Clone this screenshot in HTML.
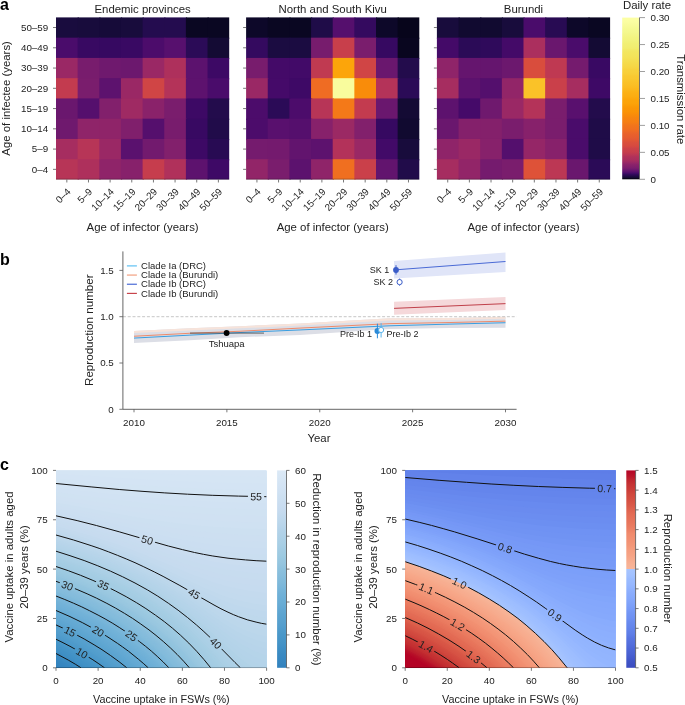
<!DOCTYPE html>
<html><head><meta charset="utf-8"><style>html,body{margin:0;padding:0;background:#fff;}svg{display:block;will-change:transform;}text{font-family:"Liberation Sans",sans-serif;}</style></head>
<body><svg width="685" height="705" viewBox="0 0 685 705" font-family="Liberation Sans, sans-serif">
<rect width="685" height="705" fill="#fff"/>
<text x="0" y="9.9" font-size="16" font-weight="bold" fill="#000">a</text>
<rect x="56" y="17.4" width="22.85" height="21.46" fill="#190c3e"/>
<rect x="77.65" y="17.4" width="22.85" height="21.46" fill="#180c3c"/>
<rect x="99.3" y="17.4" width="22.85" height="21.46" fill="#160b39"/>
<rect x="120.95" y="17.4" width="22.85" height="21.46" fill="#180c3c"/>
<rect x="142.6" y="17.4" width="22.85" height="21.46" fill="#240c4f"/>
<rect x="164.25" y="17.4" width="22.85" height="21.46" fill="#240c4f"/>
<rect x="185.9" y="17.4" width="22.85" height="21.46" fill="#0a0722"/>
<rect x="207.55" y="17.4" width="21.65" height="21.46" fill="#0a0722"/>
<rect x="56" y="37.66" width="22.85" height="21.46" fill="#4a0c6b"/>
<rect x="77.65" y="37.66" width="22.85" height="21.46" fill="#380962"/>
<rect x="99.3" y="37.66" width="22.85" height="21.46" fill="#360961"/>
<rect x="120.95" y="37.66" width="22.85" height="21.46" fill="#390963"/>
<rect x="142.6" y="37.66" width="22.85" height="21.46" fill="#4c0c6b"/>
<rect x="164.25" y="37.66" width="22.85" height="21.46" fill="#57106e"/>
<rect x="185.9" y="37.66" width="22.85" height="21.46" fill="#2b0b57"/>
<rect x="207.55" y="37.66" width="21.65" height="21.46" fill="#140b34"/>
<rect x="56" y="57.92" width="22.85" height="21.46" fill="#9a2865"/>
<rect x="77.65" y="57.92" width="22.85" height="21.46" fill="#781c6d"/>
<rect x="99.3" y="57.92" width="22.85" height="21.46" fill="#6f196e"/>
<rect x="120.95" y="57.92" width="22.85" height="21.46" fill="#6c186e"/>
<rect x="142.6" y="57.92" width="22.85" height="21.46" fill="#9a2865"/>
<rect x="164.25" y="57.92" width="22.85" height="21.46" fill="#ae305c"/>
<rect x="185.9" y="57.92" width="22.85" height="21.46" fill="#5c126e"/>
<rect x="207.55" y="57.92" width="21.65" height="21.46" fill="#3d0965"/>
<rect x="56" y="78.18" width="22.85" height="21.46" fill="#c33b4f"/>
<rect x="77.65" y="78.18" width="22.85" height="21.46" fill="#7a1d6d"/>
<rect x="99.3" y="78.18" width="22.85" height="21.46" fill="#5d126e"/>
<rect x="120.95" y="78.18" width="22.85" height="21.46" fill="#9a2865"/>
<rect x="142.6" y="78.18" width="22.85" height="21.46" fill="#d04545"/>
<rect x="164.25" y="78.18" width="22.85" height="21.46" fill="#b43359"/>
<rect x="185.9" y="78.18" width="22.85" height="21.46" fill="#5d126e"/>
<rect x="207.55" y="78.18" width="21.65" height="21.46" fill="#4a0c6b"/>
<rect x="56" y="98.44" width="22.85" height="21.46" fill="#6a176e"/>
<rect x="77.65" y="98.44" width="22.85" height="21.46" fill="#550f6d"/>
<rect x="99.3" y="98.44" width="22.85" height="21.46" fill="#82206c"/>
<rect x="120.95" y="98.44" width="22.85" height="21.46" fill="#9f2a63"/>
<rect x="142.6" y="98.44" width="22.85" height="21.46" fill="#8a226a"/>
<rect x="164.25" y="98.44" width="22.85" height="21.46" fill="#7a1d6d"/>
<rect x="185.9" y="98.44" width="22.85" height="21.46" fill="#3d0965"/>
<rect x="207.55" y="98.44" width="21.65" height="21.46" fill="#230c4c"/>
<rect x="56" y="118.7" width="22.85" height="21.46" fill="#6f196e"/>
<rect x="77.65" y="118.7" width="22.85" height="21.46" fill="#8f2469"/>
<rect x="99.3" y="118.7" width="22.85" height="21.46" fill="#8f2469"/>
<rect x="120.95" y="118.7" width="22.85" height="21.46" fill="#801f6c"/>
<rect x="142.6" y="118.7" width="22.85" height="21.46" fill="#550f6d"/>
<rect x="164.25" y="118.7" width="22.85" height="21.46" fill="#781c6d"/>
<rect x="185.9" y="118.7" width="22.85" height="21.46" fill="#380962"/>
<rect x="207.55" y="118.7" width="21.65" height="21.46" fill="#210c4a"/>
<rect x="56" y="138.96" width="22.85" height="21.46" fill="#a62d60"/>
<rect x="77.65" y="138.96" width="22.85" height="21.46" fill="#b73557"/>
<rect x="99.3" y="138.96" width="22.85" height="21.46" fill="#9a2865"/>
<rect x="120.95" y="138.96" width="22.85" height="21.46" fill="#5a116e"/>
<rect x="142.6" y="138.96" width="22.85" height="21.46" fill="#721a6e"/>
<rect x="164.25" y="138.96" width="22.85" height="21.46" fill="#82206c"/>
<rect x="185.9" y="138.96" width="22.85" height="21.46" fill="#3d0965"/>
<rect x="207.55" y="138.96" width="21.65" height="21.46" fill="#280b53"/>
<rect x="56" y="159.22" width="22.85" height="20.26" fill="#b73557"/>
<rect x="77.65" y="159.22" width="22.85" height="20.26" fill="#ae305c"/>
<rect x="99.3" y="159.22" width="22.85" height="20.26" fill="#8f2469"/>
<rect x="120.95" y="159.22" width="22.85" height="20.26" fill="#87216b"/>
<rect x="142.6" y="159.22" width="22.85" height="20.26" fill="#c63d4d"/>
<rect x="164.25" y="159.22" width="22.85" height="20.26" fill="#b0315b"/>
<rect x="185.9" y="159.22" width="22.85" height="20.26" fill="#5d126e"/>
<rect x="207.55" y="159.22" width="21.65" height="20.26" fill="#3e0966"/>
<text x="142.6" y="12.8" font-size="11.4" text-anchor="middle" fill="#222">Endemic provinces</text>
<line x1="53" y1="169.35" x2="56" y2="169.35" stroke="#555" stroke-width="0.8"/>
<text x="48.2" y="172.75" font-size="9.8" text-anchor="end" fill="#222">0–4</text>
<line x1="53" y1="149.09" x2="56" y2="149.09" stroke="#555" stroke-width="0.8"/>
<text x="48.2" y="152.49" font-size="9.8" text-anchor="end" fill="#222">5–9</text>
<line x1="53" y1="128.83" x2="56" y2="128.83" stroke="#555" stroke-width="0.8"/>
<text x="48.2" y="132.23" font-size="9.8" text-anchor="end" fill="#222">10–14</text>
<line x1="53" y1="108.57" x2="56" y2="108.57" stroke="#555" stroke-width="0.8"/>
<text x="48.2" y="111.97" font-size="9.8" text-anchor="end" fill="#222">15–19</text>
<line x1="53" y1="88.31" x2="56" y2="88.31" stroke="#555" stroke-width="0.8"/>
<text x="48.2" y="91.71" font-size="9.8" text-anchor="end" fill="#222">20–29</text>
<line x1="53" y1="68.05" x2="56" y2="68.05" stroke="#555" stroke-width="0.8"/>
<text x="48.2" y="71.45" font-size="9.8" text-anchor="end" fill="#222">30–39</text>
<line x1="53" y1="47.79" x2="56" y2="47.79" stroke="#555" stroke-width="0.8"/>
<text x="48.2" y="51.19" font-size="9.8" text-anchor="end" fill="#222">40–49</text>
<line x1="53" y1="27.53" x2="56" y2="27.53" stroke="#555" stroke-width="0.8"/>
<text x="48.2" y="30.93" font-size="9.8" text-anchor="end" fill="#222">50–59</text>
<line x1="56" y1="179.18" x2="229.2" y2="179.18" stroke="#000" stroke-width="0.6" stroke-opacity="0.5"/>
<line x1="66.83" y1="179.48" x2="66.83" y2="182.48" stroke="#555" stroke-width="0.8"/>
<text transform="translate(71.33,192.3) rotate(-45)" font-size="9.8" text-anchor="end" fill="#222">0–4</text>
<line x1="88.47" y1="179.48" x2="88.47" y2="182.48" stroke="#555" stroke-width="0.8"/>
<text transform="translate(92.97,192.3) rotate(-45)" font-size="9.8" text-anchor="end" fill="#222">5–9</text>
<line x1="110.12" y1="179.48" x2="110.12" y2="182.48" stroke="#555" stroke-width="0.8"/>
<text transform="translate(114.62,192.3) rotate(-45)" font-size="9.8" text-anchor="end" fill="#222">10–14</text>
<line x1="131.77" y1="179.48" x2="131.77" y2="182.48" stroke="#555" stroke-width="0.8"/>
<text transform="translate(136.27,192.3) rotate(-45)" font-size="9.8" text-anchor="end" fill="#222">15–19</text>
<line x1="153.43" y1="179.48" x2="153.43" y2="182.48" stroke="#555" stroke-width="0.8"/>
<text transform="translate(157.93,192.3) rotate(-45)" font-size="9.8" text-anchor="end" fill="#222">20–29</text>
<line x1="175.07" y1="179.48" x2="175.07" y2="182.48" stroke="#555" stroke-width="0.8"/>
<text transform="translate(179.57,192.3) rotate(-45)" font-size="9.8" text-anchor="end" fill="#222">30–39</text>
<line x1="196.72" y1="179.48" x2="196.72" y2="182.48" stroke="#555" stroke-width="0.8"/>
<text transform="translate(201.22,192.3) rotate(-45)" font-size="9.8" text-anchor="end" fill="#222">40–49</text>
<line x1="218.38" y1="179.48" x2="218.38" y2="182.48" stroke="#555" stroke-width="0.8"/>
<text transform="translate(222.88,192.3) rotate(-45)" font-size="9.8" text-anchor="end" fill="#222">50–59</text>
<text x="142.6" y="230.5" font-size="11.4" text-anchor="middle" fill="#222">Age of infector (years)</text>
<rect x="246.1" y="17.4" width="22.85" height="21.46" fill="#0d0829"/>
<rect x="267.75" y="17.4" width="22.85" height="21.46" fill="#0a0722"/>
<rect x="289.4" y="17.4" width="22.85" height="21.46" fill="#0a0722"/>
<rect x="311.05" y="17.4" width="22.85" height="21.46" fill="#1f0c48"/>
<rect x="332.7" y="17.4" width="22.85" height="21.46" fill="#550f6d"/>
<rect x="354.35" y="17.4" width="22.85" height="21.46" fill="#340a5f"/>
<rect x="376" y="17.4" width="22.85" height="21.46" fill="#0d0829"/>
<rect x="397.65" y="17.4" width="21.65" height="21.46" fill="#07051b"/>
<rect x="246.1" y="37.66" width="22.85" height="21.46" fill="#340a5f"/>
<rect x="267.75" y="37.66" width="22.85" height="21.46" fill="#1b0c41"/>
<rect x="289.4" y="37.66" width="22.85" height="21.46" fill="#1b0c41"/>
<rect x="311.05" y="37.66" width="22.85" height="21.46" fill="#771c6d"/>
<rect x="332.7" y="37.66" width="22.85" height="21.46" fill="#c83f4b"/>
<rect x="354.35" y="37.66" width="22.85" height="21.46" fill="#7a1d6d"/>
<rect x="376" y="37.66" width="22.85" height="21.46" fill="#360961"/>
<rect x="397.65" y="37.66" width="21.65" height="21.46" fill="#09061f"/>
<rect x="246.1" y="57.92" width="22.85" height="21.46" fill="#781c6d"/>
<rect x="267.75" y="57.92" width="22.85" height="21.46" fill="#440a68"/>
<rect x="289.4" y="57.92" width="22.85" height="21.46" fill="#420a68"/>
<rect x="311.05" y="57.92" width="22.85" height="21.46" fill="#c03a51"/>
<rect x="332.7" y="57.92" width="22.85" height="21.46" fill="#fca50a"/>
<rect x="354.35" y="57.92" width="22.85" height="21.46" fill="#d04545"/>
<rect x="376" y="57.92" width="22.85" height="21.46" fill="#6a176e"/>
<rect x="397.65" y="57.92" width="21.65" height="21.46" fill="#230c4c"/>
<rect x="246.1" y="78.18" width="22.85" height="21.46" fill="#9a2865"/>
<rect x="267.75" y="78.18" width="22.85" height="21.46" fill="#450a69"/>
<rect x="289.4" y="78.18" width="22.85" height="21.46" fill="#3e0966"/>
<rect x="311.05" y="78.18" width="22.85" height="21.46" fill="#ef6c23"/>
<rect x="332.7" y="78.18" width="22.85" height="21.46" fill="#f9fc9d"/>
<rect x="354.35" y="78.18" width="22.85" height="21.46" fill="#f98c0a"/>
<rect x="376" y="78.18" width="22.85" height="21.46" fill="#b43359"/>
<rect x="397.65" y="78.18" width="21.65" height="21.46" fill="#2b0b57"/>
<rect x="246.1" y="98.44" width="22.85" height="21.46" fill="#4c0c6b"/>
<rect x="267.75" y="98.44" width="22.85" height="21.46" fill="#2b0b57"/>
<rect x="289.4" y="98.44" width="22.85" height="21.46" fill="#4c0c6b"/>
<rect x="311.05" y="98.44" width="22.85" height="21.46" fill="#b73557"/>
<rect x="332.7" y="98.44" width="22.85" height="21.46" fill="#f47918"/>
<rect x="354.35" y="98.44" width="22.85" height="21.46" fill="#c33b4f"/>
<rect x="376" y="98.44" width="22.85" height="21.46" fill="#6a176e"/>
<rect x="397.65" y="98.44" width="21.65" height="21.46" fill="#140b34"/>
<rect x="246.1" y="118.7" width="22.85" height="21.46" fill="#4c0c6b"/>
<rect x="267.75" y="118.7" width="22.85" height="21.46" fill="#59106e"/>
<rect x="289.4" y="118.7" width="22.85" height="21.46" fill="#550f6d"/>
<rect x="311.05" y="118.7" width="22.85" height="21.46" fill="#87216b"/>
<rect x="332.7" y="118.7" width="22.85" height="21.46" fill="#9b2964"/>
<rect x="354.35" y="118.7" width="22.85" height="21.46" fill="#82206c"/>
<rect x="376" y="118.7" width="22.85" height="21.46" fill="#360961"/>
<rect x="397.65" y="118.7" width="21.65" height="21.46" fill="#110a30"/>
<rect x="246.1" y="138.96" width="22.85" height="21.46" fill="#751b6e"/>
<rect x="267.75" y="138.96" width="22.85" height="21.46" fill="#741a6e"/>
<rect x="289.4" y="138.96" width="22.85" height="21.46" fill="#62146e"/>
<rect x="311.05" y="138.96" width="22.85" height="21.46" fill="#5d126e"/>
<rect x="332.7" y="138.96" width="22.85" height="21.46" fill="#b3325a"/>
<rect x="354.35" y="138.96" width="22.85" height="21.46" fill="#9a2865"/>
<rect x="376" y="138.96" width="22.85" height="21.46" fill="#420a68"/>
<rect x="397.65" y="138.96" width="21.65" height="21.46" fill="#180c3c"/>
<rect x="246.1" y="159.22" width="22.85" height="20.26" fill="#922568"/>
<rect x="267.75" y="159.22" width="22.85" height="20.26" fill="#7a1d6d"/>
<rect x="289.4" y="159.22" width="22.85" height="20.26" fill="#5c126e"/>
<rect x="311.05" y="159.22" width="22.85" height="20.26" fill="#8f2469"/>
<rect x="332.7" y="159.22" width="22.85" height="20.26" fill="#f06f20"/>
<rect x="354.35" y="159.22" width="22.85" height="20.26" fill="#ca404a"/>
<rect x="376" y="159.22" width="22.85" height="20.26" fill="#62146e"/>
<rect x="397.65" y="159.22" width="21.65" height="20.26" fill="#210c4a"/>
<text x="332.7" y="12.8" font-size="11.4" text-anchor="middle" fill="#222">North and South Kivu</text>
<line x1="243.1" y1="169.35" x2="246.1" y2="169.35" stroke="#555" stroke-width="0.8"/>
<line x1="243.1" y1="149.09" x2="246.1" y2="149.09" stroke="#555" stroke-width="0.8"/>
<line x1="243.1" y1="128.83" x2="246.1" y2="128.83" stroke="#555" stroke-width="0.8"/>
<line x1="243.1" y1="108.57" x2="246.1" y2="108.57" stroke="#555" stroke-width="0.8"/>
<line x1="243.1" y1="88.31" x2="246.1" y2="88.31" stroke="#555" stroke-width="0.8"/>
<line x1="243.1" y1="68.05" x2="246.1" y2="68.05" stroke="#555" stroke-width="0.8"/>
<line x1="243.1" y1="47.79" x2="246.1" y2="47.79" stroke="#555" stroke-width="0.8"/>
<line x1="243.1" y1="27.53" x2="246.1" y2="27.53" stroke="#555" stroke-width="0.8"/>
<line x1="246.1" y1="179.18" x2="419.3" y2="179.18" stroke="#000" stroke-width="0.6" stroke-opacity="0.5"/>
<line x1="256.93" y1="179.48" x2="256.93" y2="182.48" stroke="#555" stroke-width="0.8"/>
<text transform="translate(261.43,192.3) rotate(-45)" font-size="9.8" text-anchor="end" fill="#222">0–4</text>
<line x1="278.57" y1="179.48" x2="278.57" y2="182.48" stroke="#555" stroke-width="0.8"/>
<text transform="translate(283.07,192.3) rotate(-45)" font-size="9.8" text-anchor="end" fill="#222">5–9</text>
<line x1="300.23" y1="179.48" x2="300.23" y2="182.48" stroke="#555" stroke-width="0.8"/>
<text transform="translate(304.73,192.3) rotate(-45)" font-size="9.8" text-anchor="end" fill="#222">10–14</text>
<line x1="321.88" y1="179.48" x2="321.88" y2="182.48" stroke="#555" stroke-width="0.8"/>
<text transform="translate(326.38,192.3) rotate(-45)" font-size="9.8" text-anchor="end" fill="#222">15–19</text>
<line x1="343.52" y1="179.48" x2="343.52" y2="182.48" stroke="#555" stroke-width="0.8"/>
<text transform="translate(348.02,192.3) rotate(-45)" font-size="9.8" text-anchor="end" fill="#222">20–29</text>
<line x1="365.17" y1="179.48" x2="365.17" y2="182.48" stroke="#555" stroke-width="0.8"/>
<text transform="translate(369.67,192.3) rotate(-45)" font-size="9.8" text-anchor="end" fill="#222">30–39</text>
<line x1="386.82" y1="179.48" x2="386.82" y2="182.48" stroke="#555" stroke-width="0.8"/>
<text transform="translate(391.32,192.3) rotate(-45)" font-size="9.8" text-anchor="end" fill="#222">40–49</text>
<line x1="408.48" y1="179.48" x2="408.48" y2="182.48" stroke="#555" stroke-width="0.8"/>
<text transform="translate(412.98,192.3) rotate(-45)" font-size="9.8" text-anchor="end" fill="#222">50–59</text>
<text x="332.7" y="230.5" font-size="11.4" text-anchor="middle" fill="#222">Age of infector (years)</text>
<rect x="436.9" y="17.4" width="22.85" height="21.46" fill="#180c3c"/>
<rect x="458.55" y="17.4" width="22.85" height="21.46" fill="#110a30"/>
<rect x="480.2" y="17.4" width="22.85" height="21.46" fill="#110a30"/>
<rect x="501.85" y="17.4" width="22.85" height="21.46" fill="#180c3c"/>
<rect x="523.5" y="17.4" width="22.85" height="21.46" fill="#4a0c6b"/>
<rect x="545.15" y="17.4" width="22.85" height="21.46" fill="#280b53"/>
<rect x="566.8" y="17.4" width="22.85" height="21.46" fill="#0d0829"/>
<rect x="588.45" y="17.4" width="21.65" height="21.46" fill="#0a0722"/>
<rect x="436.9" y="37.66" width="22.85" height="21.46" fill="#440a68"/>
<rect x="458.55" y="37.66" width="22.85" height="21.46" fill="#2b0b57"/>
<rect x="480.2" y="37.66" width="22.85" height="21.46" fill="#2f0a5b"/>
<rect x="501.85" y="37.66" width="22.85" height="21.46" fill="#440a68"/>
<rect x="523.5" y="37.66" width="22.85" height="21.46" fill="#ab2f5e"/>
<rect x="545.15" y="37.66" width="22.85" height="21.46" fill="#6a176e"/>
<rect x="566.8" y="37.66" width="22.85" height="21.46" fill="#4a0c6b"/>
<rect x="588.45" y="37.66" width="21.65" height="21.46" fill="#140b34"/>
<rect x="436.9" y="57.92" width="22.85" height="21.46" fill="#8f2469"/>
<rect x="458.55" y="57.92" width="22.85" height="21.46" fill="#65156e"/>
<rect x="480.2" y="57.92" width="22.85" height="21.46" fill="#65156e"/>
<rect x="501.85" y="57.92" width="22.85" height="21.46" fill="#6c186e"/>
<rect x="523.5" y="57.92" width="22.85" height="21.46" fill="#d94d3d"/>
<rect x="545.15" y="57.92" width="22.85" height="21.46" fill="#bf3952"/>
<rect x="566.8" y="57.92" width="22.85" height="21.46" fill="#751b6e"/>
<rect x="588.45" y="57.92" width="21.65" height="21.46" fill="#390963"/>
<rect x="436.9" y="78.18" width="22.85" height="21.46" fill="#a62d60"/>
<rect x="458.55" y="78.18" width="22.85" height="21.46" fill="#5c126e"/>
<rect x="480.2" y="78.18" width="22.85" height="21.46" fill="#540f6d"/>
<rect x="501.85" y="78.18" width="22.85" height="21.46" fill="#922568"/>
<rect x="523.5" y="78.18" width="22.85" height="21.46" fill="#fac228"/>
<rect x="545.15" y="78.18" width="22.85" height="21.46" fill="#ca404a"/>
<rect x="566.8" y="78.18" width="22.85" height="21.46" fill="#a62d60"/>
<rect x="588.45" y="78.18" width="21.65" height="21.46" fill="#3e0966"/>
<rect x="436.9" y="98.44" width="22.85" height="21.46" fill="#5d126e"/>
<rect x="458.55" y="98.44" width="22.85" height="21.46" fill="#450a69"/>
<rect x="480.2" y="98.44" width="22.85" height="21.46" fill="#6f196e"/>
<rect x="501.85" y="98.44" width="22.85" height="21.46" fill="#9a2865"/>
<rect x="523.5" y="98.44" width="22.85" height="21.46" fill="#b43359"/>
<rect x="545.15" y="98.44" width="22.85" height="21.46" fill="#7a1d6d"/>
<rect x="566.8" y="98.44" width="22.85" height="21.46" fill="#59106e"/>
<rect x="588.45" y="98.44" width="21.65" height="21.46" fill="#230c4c"/>
<rect x="436.9" y="118.7" width="22.85" height="21.46" fill="#6a176e"/>
<rect x="458.55" y="118.7" width="22.85" height="21.46" fill="#84206b"/>
<rect x="480.2" y="118.7" width="22.85" height="21.46" fill="#84206b"/>
<rect x="501.85" y="118.7" width="22.85" height="21.46" fill="#7a1d6d"/>
<rect x="523.5" y="118.7" width="22.85" height="21.46" fill="#87216b"/>
<rect x="545.15" y="118.7" width="22.85" height="21.46" fill="#7a1d6d"/>
<rect x="566.8" y="118.7" width="22.85" height="21.46" fill="#4a0c6b"/>
<rect x="588.45" y="118.7" width="21.65" height="21.46" fill="#1f0c48"/>
<rect x="436.9" y="138.96" width="22.85" height="21.46" fill="#8f2469"/>
<rect x="458.55" y="138.96" width="22.85" height="21.46" fill="#9a2865"/>
<rect x="480.2" y="138.96" width="22.85" height="21.46" fill="#87216b"/>
<rect x="501.85" y="138.96" width="22.85" height="21.46" fill="#540f6d"/>
<rect x="523.5" y="138.96" width="22.85" height="21.46" fill="#952667"/>
<rect x="545.15" y="138.96" width="22.85" height="21.46" fill="#87216b"/>
<rect x="566.8" y="138.96" width="22.85" height="21.46" fill="#4a0c6b"/>
<rect x="588.45" y="138.96" width="21.65" height="21.46" fill="#1f0c48"/>
<rect x="436.9" y="159.22" width="22.85" height="20.26" fill="#a62d60"/>
<rect x="458.55" y="159.22" width="22.85" height="20.26" fill="#922568"/>
<rect x="480.2" y="159.22" width="22.85" height="20.26" fill="#751b6e"/>
<rect x="501.85" y="159.22" width="22.85" height="20.26" fill="#7a1d6d"/>
<rect x="523.5" y="159.22" width="22.85" height="20.26" fill="#de5238"/>
<rect x="545.15" y="159.22" width="22.85" height="20.26" fill="#bc3754"/>
<rect x="566.8" y="159.22" width="22.85" height="20.26" fill="#6a176e"/>
<rect x="588.45" y="159.22" width="21.65" height="20.26" fill="#2b0b57"/>
<text x="523.5" y="12.8" font-size="11.4" text-anchor="middle" fill="#222">Burundi</text>
<line x1="433.9" y1="169.35" x2="436.9" y2="169.35" stroke="#555" stroke-width="0.8"/>
<line x1="433.9" y1="149.09" x2="436.9" y2="149.09" stroke="#555" stroke-width="0.8"/>
<line x1="433.9" y1="128.83" x2="436.9" y2="128.83" stroke="#555" stroke-width="0.8"/>
<line x1="433.9" y1="108.57" x2="436.9" y2="108.57" stroke="#555" stroke-width="0.8"/>
<line x1="433.9" y1="88.31" x2="436.9" y2="88.31" stroke="#555" stroke-width="0.8"/>
<line x1="433.9" y1="68.05" x2="436.9" y2="68.05" stroke="#555" stroke-width="0.8"/>
<line x1="433.9" y1="47.79" x2="436.9" y2="47.79" stroke="#555" stroke-width="0.8"/>
<line x1="433.9" y1="27.53" x2="436.9" y2="27.53" stroke="#555" stroke-width="0.8"/>
<line x1="436.9" y1="179.18" x2="610.1" y2="179.18" stroke="#000" stroke-width="0.6" stroke-opacity="0.5"/>
<line x1="447.72" y1="179.48" x2="447.72" y2="182.48" stroke="#555" stroke-width="0.8"/>
<text transform="translate(452.22,192.3) rotate(-45)" font-size="9.8" text-anchor="end" fill="#222">0–4</text>
<line x1="469.38" y1="179.48" x2="469.38" y2="182.48" stroke="#555" stroke-width="0.8"/>
<text transform="translate(473.88,192.3) rotate(-45)" font-size="9.8" text-anchor="end" fill="#222">5–9</text>
<line x1="491.02" y1="179.48" x2="491.02" y2="182.48" stroke="#555" stroke-width="0.8"/>
<text transform="translate(495.52,192.3) rotate(-45)" font-size="9.8" text-anchor="end" fill="#222">10–14</text>
<line x1="512.67" y1="179.48" x2="512.67" y2="182.48" stroke="#555" stroke-width="0.8"/>
<text transform="translate(517.17,192.3) rotate(-45)" font-size="9.8" text-anchor="end" fill="#222">15–19</text>
<line x1="534.32" y1="179.48" x2="534.32" y2="182.48" stroke="#555" stroke-width="0.8"/>
<text transform="translate(538.82,192.3) rotate(-45)" font-size="9.8" text-anchor="end" fill="#222">20–29</text>
<line x1="555.97" y1="179.48" x2="555.97" y2="182.48" stroke="#555" stroke-width="0.8"/>
<text transform="translate(560.47,192.3) rotate(-45)" font-size="9.8" text-anchor="end" fill="#222">30–39</text>
<line x1="577.62" y1="179.48" x2="577.62" y2="182.48" stroke="#555" stroke-width="0.8"/>
<text transform="translate(582.12,192.3) rotate(-45)" font-size="9.8" text-anchor="end" fill="#222">40–49</text>
<line x1="599.27" y1="179.48" x2="599.27" y2="182.48" stroke="#555" stroke-width="0.8"/>
<text transform="translate(603.77,192.3) rotate(-45)" font-size="9.8" text-anchor="end" fill="#222">50–59</text>
<text x="523.5" y="230.5" font-size="11.4" text-anchor="middle" fill="#222">Age of infector (years)</text>
<text transform="translate(9.8,98.4) rotate(-90)" font-size="11.4" text-anchor="middle" fill="#222">Age of infectee (years)</text>
<defs><linearGradient id="gInf" x1="0" y1="1" x2="0" y2="0"><stop offset="0" stop-color="#000004"/><stop offset="0.01" stop-color="#140b34"/><stop offset="0.03" stop-color="#310a5c"/><stop offset="0.04" stop-color="#4a0c6b"/><stop offset="0.05" stop-color="#5d126e"/><stop offset="0.06" stop-color="#6d186e"/><stop offset="0.07" stop-color="#7c1d6d"/><stop offset="0.09" stop-color="#8a226a"/><stop offset="0.1" stop-color="#952667"/><stop offset="0.11" stop-color="#a02a63"/><stop offset="0.12" stop-color="#a92e5e"/><stop offset="0.14" stop-color="#b1325a"/><stop offset="0.15" stop-color="#ba3655"/><stop offset="0.16" stop-color="#c13a50"/><stop offset="0.17" stop-color="#c73e4c"/><stop offset="0.19" stop-color="#cc4248"/><stop offset="0.2" stop-color="#d34743"/><stop offset="0.21" stop-color="#d74b3f"/><stop offset="0.23" stop-color="#db503b"/><stop offset="0.24" stop-color="#e05536"/><stop offset="0.25" stop-color="#e35933"/><stop offset="0.26" stop-color="#e65d2f"/><stop offset="0.28" stop-color="#e9612b"/><stop offset="0.29" stop-color="#eb6628"/><stop offset="0.3" stop-color="#ee6a24"/><stop offset="0.31" stop-color="#f06f20"/><stop offset="0.33" stop-color="#f2741c"/><stop offset="0.34" stop-color="#f37819"/><stop offset="0.35" stop-color="#f57d15"/><stop offset="0.36" stop-color="#f68013"/><stop offset="0.38" stop-color="#f78410"/><stop offset="0.39" stop-color="#f8890c"/><stop offset="0.4" stop-color="#f98c0a"/><stop offset="0.41" stop-color="#fa9008"/><stop offset="0.42" stop-color="#fa9407"/><stop offset="0.44" stop-color="#fb9706"/><stop offset="0.45" stop-color="#fb9b06"/><stop offset="0.46" stop-color="#fc9f07"/><stop offset="0.47" stop-color="#fca309"/><stop offset="0.49" stop-color="#fca50a"/><stop offset="0.5" stop-color="#fca80d"/><stop offset="0.51" stop-color="#fcac11"/><stop offset="0.53" stop-color="#fcb014"/><stop offset="0.54" stop-color="#fcb216"/><stop offset="0.55" stop-color="#fbb61a"/><stop offset="0.56" stop-color="#fbb81d"/><stop offset="0.57" stop-color="#fbbc21"/><stop offset="0.59" stop-color="#fac026"/><stop offset="0.6" stop-color="#fac228"/><stop offset="0.61" stop-color="#fac42a"/><stop offset="0.62" stop-color="#f9c72f"/><stop offset="0.64" stop-color="#f9c932"/><stop offset="0.65" stop-color="#f8cd37"/><stop offset="0.66" stop-color="#f8cf3a"/><stop offset="0.68" stop-color="#f7d13d"/><stop offset="0.69" stop-color="#f6d543"/><stop offset="0.7" stop-color="#f6d746"/><stop offset="0.71" stop-color="#f5d949"/><stop offset="0.72" stop-color="#f5db4c"/><stop offset="0.74" stop-color="#f4df53"/><stop offset="0.75" stop-color="#f4e156"/><stop offset="0.76" stop-color="#f3e35a"/><stop offset="0.78" stop-color="#f3e55d"/><stop offset="0.79" stop-color="#f2e661"/><stop offset="0.8" stop-color="#f2e865"/><stop offset="0.81" stop-color="#f1ec6d"/><stop offset="0.82" stop-color="#f1ed71"/><stop offset="0.84" stop-color="#f1ef75"/><stop offset="0.85" stop-color="#f1f179"/><stop offset="0.86" stop-color="#f2f27d"/><stop offset="0.88" stop-color="#f2f482"/><stop offset="0.89" stop-color="#f3f586"/><stop offset="0.9" stop-color="#f3f68a"/><stop offset="0.91" stop-color="#f4f88e"/><stop offset="0.93" stop-color="#f5f992"/><stop offset="0.94" stop-color="#f6fa96"/><stop offset="0.95" stop-color="#f8fb9a"/><stop offset="0.96" stop-color="#f9fc9d"/><stop offset="0.97" stop-color="#fafda1"/><stop offset="0.99" stop-color="#fcffa4"/><stop offset="1" stop-color="#fcffa4"/></linearGradient></defs>
<rect x="622.2" y="17.6" width="17.3" height="161.7" fill="url(#gInf)"/>
<line x1="639.5" y1="17.6" x2="639.5" y2="179.3" stroke="#555" stroke-width="0.8"/>
<line x1="639.5" y1="179.3" x2="645" y2="179.3" stroke="#888" stroke-width="0.8"/>
<text x="650.5" y="182.7" font-size="9.8" fill="#222">0</text>
<line x1="639.5" y1="152.35" x2="645" y2="152.35" stroke="#888" stroke-width="0.8"/>
<text x="650.5" y="155.75" font-size="9.8" fill="#222">0.05</text>
<line x1="639.5" y1="125.4" x2="645" y2="125.4" stroke="#888" stroke-width="0.8"/>
<text x="650.5" y="128.8" font-size="9.8" fill="#222">0.10</text>
<line x1="639.5" y1="98.45" x2="645" y2="98.45" stroke="#888" stroke-width="0.8"/>
<text x="650.5" y="101.85" font-size="9.8" fill="#222">0.15</text>
<line x1="639.5" y1="71.5" x2="645" y2="71.5" stroke="#888" stroke-width="0.8"/>
<text x="650.5" y="74.9" font-size="9.8" fill="#222">0.20</text>
<line x1="639.5" y1="44.55" x2="645" y2="44.55" stroke="#888" stroke-width="0.8"/>
<text x="650.5" y="47.95" font-size="9.8" fill="#222">0.25</text>
<line x1="639.5" y1="17.6" x2="645" y2="17.6" stroke="#888" stroke-width="0.8"/>
<text x="650.5" y="21" font-size="9.8" fill="#222">0.30</text>
<text x="647" y="9.4" font-size="11.4" text-anchor="middle" fill="#222">Daily rate</text>
<text transform="translate(676.5,99.2) rotate(90)" font-size="11.4" text-anchor="middle" fill="#222">Transmission rate</text>
<text x="0" y="264.8" font-size="16" font-weight="bold" fill="#000">b</text>
<path d="M134,330.96 L189.91,328.37 L240.06,326.24 L300.06,323.55 L389.96,318.37 L449.96,317.9 L505.5,316.7 L505.5,327.72 L449.96,328 L389.96,329.11 L300.06,335.03 L240.06,337.16 L189.91,340.31 L134,343Z" fill="#dcdee6" fill-opacity="1"/>
<path d="M134,330.96 L189.91,328.37 L240.06,326.24 L300.06,323.55 L389.96,318.37 L449.96,317.9 L505.5,316.7 L505.5,318.74 L449.96,319.94 L389.96,320.4 L300.06,325.59 L240.06,328.28 L189.91,330.4 L134,333Z" fill="#f7e3da" fill-opacity="1"/>
<line x1="122.9" y1="316.7" x2="516.6" y2="316.7" stroke="#b8b8b8" stroke-width="0.8" stroke-dasharray="3 1.8"/>
<path d="M134,336.24 L189.91,333.28 L240.06,331.24 L300.06,328.09 L389.96,323.64 L449.96,322.53 L505.5,321.14" fill="none" stroke="#ee8a6a" stroke-width="1.0"/>
<path d="M134,338.09 L189.91,335.13 L240.06,332.53 L300.06,329.94 L389.96,325.77 L449.96,324.11 L505.5,322.72" fill="none" stroke="#3a9ee0" stroke-width="1.0"/>
<path d="M394.05,301.79 L505.5,296.88 L505.5,310.03 L394.05,314.66Z" fill="#f5d8da" fill-opacity="1"/>
<path d="M394.05,308.37 L505.5,303.64" fill="none" stroke="#c0404a" stroke-width="1.0"/>
<path d="M394.05,261.05 L505.5,252.44 L505.5,271.88 L394.05,278.55Z" fill="#e0e5f8" fill-opacity="1"/>
<path d="M394.05,269.94 L505.5,261.51" fill="none" stroke="#4a6ad6" stroke-width="1.0"/>
<line x1="190" y1="333.1" x2="264" y2="333.1" stroke="#444" stroke-width="0.8"/>
<circle cx="226.6" cy="333" r="2.9" fill="#000"/>
<text x="226.7" y="346.9" font-size="9.5" text-anchor="middle" fill="#222">Tshuapa</text>
<line x1="396" y1="265.2" x2="396" y2="274.6" stroke="#3a5cc8" stroke-width="1"/>
<circle cx="396" cy="270" r="2.9" fill="#3a5cc8"/>
<line x1="399.6" y1="278.5" x2="399.6" y2="285.8" stroke="#3a5cc8" stroke-width="0.8"/>
<circle cx="399.6" cy="282.1" r="2.6" fill="#fff" stroke="#3a5cc8" stroke-width="1"/>
<text x="389.3" y="272.9" font-size="9" text-anchor="end" fill="#222">SK 1</text>
<text x="393" y="285" font-size="9" text-anchor="end" fill="#222">SK 2</text>
<line x1="377.4" y1="323.7" x2="377.4" y2="338.3" stroke="#2a8ad8" stroke-width="1"/>
<circle cx="377.4" cy="331" r="2.9" fill="#2a8ad8"/>
<line x1="381.1" y1="323" x2="381.1" y2="337.5" stroke="#5ab4ec" stroke-width="1"/>
<circle cx="381.1" cy="330" r="2.6" fill="#fff" stroke="#5ab4ec" stroke-width="1"/>
<text x="371.9" y="337.4" font-size="9" text-anchor="end" fill="#222">Pre-Ib 1</text>
<text x="386.6" y="337.2" font-size="9" fill="#222">Pre-Ib 2</text>
<line x1="122.9" y1="251.4" x2="122.9" y2="409.3" stroke="#555" stroke-width="0.9"/>
<line x1="122.9" y1="409.3" x2="516.6" y2="409.3" stroke="#555" stroke-width="0.9"/>
<line x1="119.4" y1="409.3" x2="122.9" y2="409.3" stroke="#555" stroke-width="0.8"/>
<text x="113.8" y="412.7" font-size="9.8" text-anchor="end" fill="#222">0</text>
<line x1="119.4" y1="363" x2="122.9" y2="363" stroke="#555" stroke-width="0.8"/>
<text x="113.8" y="366.4" font-size="9.8" text-anchor="end" fill="#222">0.5</text>
<line x1="119.4" y1="316.7" x2="122.9" y2="316.7" stroke="#555" stroke-width="0.8"/>
<text x="113.8" y="320.1" font-size="9.8" text-anchor="end" fill="#222">1.0</text>
<line x1="119.4" y1="270.4" x2="122.9" y2="270.4" stroke="#555" stroke-width="0.8"/>
<text x="113.8" y="273.8" font-size="9.8" text-anchor="end" fill="#222">1.5</text>
<line x1="134" y1="409.3" x2="134" y2="412.3" stroke="#555" stroke-width="0.8"/>
<text x="134" y="425.9" font-size="9.8" text-anchor="middle" fill="#222">2010</text>
<line x1="226.88" y1="409.3" x2="226.88" y2="412.3" stroke="#555" stroke-width="0.8"/>
<text x="226.88" y="425.9" font-size="9.8" text-anchor="middle" fill="#222">2015</text>
<line x1="319.75" y1="409.3" x2="319.75" y2="412.3" stroke="#555" stroke-width="0.8"/>
<text x="319.75" y="425.9" font-size="9.8" text-anchor="middle" fill="#222">2020</text>
<line x1="412.62" y1="409.3" x2="412.62" y2="412.3" stroke="#555" stroke-width="0.8"/>
<text x="412.62" y="425.9" font-size="9.8" text-anchor="middle" fill="#222">2025</text>
<line x1="505.5" y1="409.3" x2="505.5" y2="412.3" stroke="#555" stroke-width="0.8"/>
<text x="505.5" y="425.9" font-size="9.8" text-anchor="middle" fill="#222">2030</text>
<text x="319" y="442.2" font-size="11.4" text-anchor="middle" fill="#222">Year</text>
<text transform="translate(93.3,330.2) rotate(-90)" font-size="11.6" text-anchor="middle" fill="#222">Reproduction number</text>
<line x1="126.9" y1="265.9" x2="136.9" y2="265.9" stroke="#5ec0f2" stroke-width="1.2"/>
<text x="141.1" y="269.1" font-size="9.5" fill="#222">Clade Ia (DRC)</text>
<line x1="126.9" y1="275.07" x2="136.9" y2="275.07" stroke="#f2a080" stroke-width="1.2"/>
<text x="141.1" y="278.27" font-size="9.5" fill="#222">Clade Ia (Burundi)</text>
<line x1="126.9" y1="284.24" x2="136.9" y2="284.24" stroke="#4a6ad6" stroke-width="1.2"/>
<text x="141.1" y="287.44" font-size="9.5" fill="#222">Clade Ib (DRC)</text>
<line x1="126.9" y1="293.41" x2="136.9" y2="293.41" stroke="#c8444c" stroke-width="1.2"/>
<text x="141.1" y="296.61" font-size="9.5" fill="#222">Clade Ib (Burundi)</text>
<text x="0" y="470" font-size="16" font-weight="bold" fill="#000">c</text><defs><mask id="mL" maskUnits="userSpaceOnUse" x="0" y="0" width="685" height="705"><rect x="51.0" y="465.4" width="220.6" height="207.4" fill="#fff"/><rect x="-8.14" y="-4" width="16.28" height="8" fill="#000" transform="translate(256.07,496.5) rotate(1.13)"/><rect x="-8.14" y="-4" width="16.28" height="8" fill="#000" transform="translate(147.26,539.98) rotate(16.28)"/><rect x="-8.14" y="-4" width="16.28" height="8" fill="#000" transform="translate(194.26,593.77) rotate(30.11)"/><rect x="-8.14" y="-4" width="16.28" height="8" fill="#000" transform="translate(215.92,643.12) rotate(44.88)"/><rect x="-8.14" y="-4" width="16.28" height="8" fill="#000" transform="translate(103.39,585.06) rotate(24.95)"/><rect x="-8.14" y="-4" width="16.28" height="8" fill="#000" transform="translate(67.33,585.55) rotate(21.15)"/><rect x="-8.14" y="-4" width="16.28" height="8" fill="#000" transform="translate(131.47,635.61) rotate(35.38)"/><rect x="-8.14" y="-4" width="16.28" height="8" fill="#000" transform="translate(98.12,631.16) rotate(30.1)"/><rect x="-8.14" y="-4" width="16.28" height="8" fill="#000" transform="translate(70.04,631.49) rotate(26.53)"/><rect x="-8.14" y="-4" width="16.28" height="8" fill="#000" transform="translate(81.86,653) rotate(30.62)"/></mask><mask id="mR" maskUnits="userSpaceOnUse" x="0" y="0" width="685" height="705"><rect x="400.2" y="465.4" width="220.3" height="207.4" fill="#fff"/><rect x="-9.6" y="-4" width="19.2" height="8" fill="#000" transform="translate(604.56,488.49) rotate(1.12)"/><rect x="-9.6" y="-4" width="19.2" height="8" fill="#000" transform="translate(505.09,547.92) rotate(18.15)"/><rect x="-9.6" y="-4" width="19.2" height="8" fill="#000" transform="translate(554.87,615.16) rotate(36.41)"/><rect x="-9.6" y="-4" width="19.2" height="8" fill="#000" transform="translate(459.53,582.99) rotate(25.47)"/><rect x="-9.6" y="-4" width="19.2" height="8" fill="#000" transform="translate(426.23,588.69) rotate(22.53)"/><rect x="-9.6" y="-4" width="19.2" height="8" fill="#000" transform="translate(457.77,624.58) rotate(30.68)"/><rect x="-9.6" y="-4" width="19.2" height="8" fill="#000" transform="translate(473.55,656.84) rotate(37.47)"/><rect x="-9.6" y="-4" width="19.2" height="8" fill="#000" transform="translate(426.06,646.41) rotate(29.17)"/></mask></defs><defs>
<clipPath id="clipL"><rect x="56.0" y="470.4" width="210.6" height="197.4"/></clipPath>
<clipPath id="clipR"><rect x="405.2" y="470.4" width="210.3" height="197.4"/></clipPath>
</defs>
<g clip-path="url(#clipL)">
<rect x="56.0" y="470.4" width="210.6" height="197.4" fill="#dce9f6"/>
<path d="M57.8,667.8 266.6,667.8 266.6,470.4 56,470.4 56,667.8Z" fill="#dbe9f6"/>
<path d="M57.8,667.8 266.6,667.8 266.6,470.4 56,470.4 56,667.8Z" fill="#dae8f6"/>
<path d="M57.8,667.8 266.6,667.8 266.6,470.4 56,470.4 56,667.8Z" fill="#d9e8f5"/>
<path d="M57.8,667.8 266.6,667.8 266.6,470.4 56,470.4 56,667.8Z" fill="#d9e7f5"/>
<path d="M57.8,667.8 266.6,667.8 266.6,470.4 56,470.4 56,667.8Z" fill="#d7e6f5"/>
<path d="M57.8,667.8 266.6,667.8 266.6,470.4 56,470.4 56,667.8Z" fill="#d6e6f4"/>
<path d="M57.8,667.8 266.6,667.8 266.6,470.5 261.7,470.4 56,470.4 56,667.8Z" fill="#d6e5f4"/>
<path d="M57.8,667.8 266.6,667.8 266.6,477.1 180.6,474.7 94.7,470.4 56,470.4 56,667.8Z" fill="#d5e5f4"/>
<path d="M57.8,667.8 266.6,667.8 266.6,483.6 214,482.4 164.8,480.4 117.4,477.8 56,473.5 56,667.8Z" fill="#d4e4f4"/>
<path d="M57.8,667.8 266.6,667.8 266.6,490.2 214,488.9 164.8,486.7 117.4,483.6 56,478.6 56,667.8Z" fill="#d3e4f3"/>
<path d="M57.8,667.8 266.6,667.8 266.6,496.7 212.2,495.3 164.8,492.9 119.2,489.5 56,483.5 56,667.8Z" fill="#d2e3f3"/>
<path d="M57.8,667.8 266.6,667.8 266.6,503.2 214,501.7 166.6,499.1 120.9,495.1 56,487.9 56,667.8Z" fill="#d1e2f3"/>
<path d="M57.8,667.8 266.6,667.8 266.6,509.7 214,508.1 166.6,505 122.7,500.5 56,492.1 56,667.8Z" fill="#d0e2f2"/>
<path d="M57.8,667.8 266.6,667.8 266.6,516.2 215.7,514.5 192.9,513 170.1,511.1 129.7,506.4 56,495.9 56,667.8Z" fill="#d0e1f2"/>
<path d="M57.8,667.8 266.6,667.8 266.6,522.7 240.3,521.9 215.7,520.7 192.9,519 171.8,517 131.5,511.6 56,499.4 56,667.8Z" fill="#cfe1f2"/>
<path d="M57.8,667.8 266.6,667.8 266.6,529.1 240.3,528.3 217.5,527 196.4,525.3 175.3,522.9 138.5,517.4 56,502.6 56,667.8Z" fill="#cde0f1"/>
<path d="M57.8,667.8 266.6,667.8 266.6,535.6 242,534.7 219.2,533.3 198.2,531.3 178.9,528.8 143.8,522.9 56,505.6 56,667.8Z" fill="#cddff1"/>
<path d="M57.8,667.8 266.6,667.8 266.6,542 243.8,541.1 222.7,539.6 201.7,537.4 182.4,534.7 150.8,528.8 84.1,514.1 56,508.4 56,667.8Z" fill="#ccdff1"/>
<path d="M57.8,667.8 266.6,667.8 266.6,548.4 243.8,547.4 224.5,545.8 205.2,543.6 187.6,540.8 157.8,534.7 92.9,519 56,511 56,667.8Z" fill="#cbdef1"/>
<path d="M57.8,667.8 266.6,667.8 266.6,554.8 245.5,553.7 226.2,552 208.7,549.7 191.1,546.7 159.7,539.5 89.3,521 56,513.5 56,667.8Z" fill="#cadef0"/>
<path d="M57.8,667.8 266.6,667.8 266.6,561.2 245.5,559.9 228,558.2 212.2,555.9 194.6,552.5 168.3,546 96.4,525.5 56,515.8 56,667.8Z" fill="#caddf0"/>
<path d="M57.8,667.8 266.6,667.8 266.6,567.6 249.1,566.4 231.5,564.5 215.7,562 199.9,558.7 173.6,551.7 122.7,535.8 99.9,529.1 78.8,523.4 56,518 56,667.8Z" fill="#c8dcf0"/>
<path d="M57.8,667.8 266.6,667.8 266.6,574 249.1,572.6 233.3,570.6 217.5,567.9 203.4,564.6 178.9,557.4 131.5,541.5 106.9,533.7 82.3,526.7 56,520.1 56,667.8Z" fill="#c7dcef"/>
<path d="M57.8,667.8 266.6,667.8 266.6,580.3 250.8,578.9 235,576.8 221,574 206.9,570.5 185.9,563.9 135,545.5 110.4,537.3 82.3,528.9 56,522.2 56,667.8Z" fill="#c7dbef"/>
<path d="M57.8,667.8 266.6,667.8 266.6,586.6 252.6,585.2 238.5,583.2 226.2,580.7 212.2,577 189.4,569.3 140.2,550.3 115.7,541.4 85.8,532 56,524.1 56,667.8Z" fill="#c6dbef"/>
<path d="M57.8,667.8 266.6,667.8 266.6,592.9 252.6,591.3 240.3,589.3 228,586.6 215.7,583 194.6,575.4 145.5,555.1 119.2,545.1 89.3,535.2 56,526.1 56,667.8Z" fill="#c4daee"/>
<path d="M57.8,667.8 266.6,667.8 266.6,599.2 254.3,597.7 242,595.5 229.7,592.4 219.2,589.2 201.7,582.5 150.8,560 122.7,548.7 105.1,542.4 89.3,537.3 56,527.9 56,667.8Z" fill="#c3daee"/>
<path d="M57.8,667.8 266.6,667.8 266.6,605.5 254.3,603.7 243.8,601.6 233.3,598.9 222.7,595.4 203.4,587.4 152.5,563.4 126.2,552.3 110.4,546.4 92.9,540.4 75.3,535 56,529.7 56,667.8Z" fill="#c1d9ed"/>
<path d="M57.8,667.8 266.6,667.8 266.6,611.7 256.1,610.1 245.5,607.8 236.8,605.4 226.2,601.7 206.9,593.2 155.6,567.5 128,555.3 110.4,548.5 92.9,542.4 75.3,536.9 56,531.5 56,667.8Z" fill="#bfd8ed"/>
<path d="M57.8,667.8 266.6,667.8 266.6,618 256.1,616.1 247.3,614 238.5,611.4 229.7,608.1 210.4,599 161.3,572.9 133.2,559.7 113.9,551.9 96.4,545.5 75.3,538.7 56,533.3 56,667.8Z" fill="#bed8ec"/>
<path d="M57.8,667.8 266.6,667.8 266.6,624.2 256.1,622.1 247.3,619.8 238.5,616.7 228,612.2 213.9,605 179.9,585.5 163.1,576.4 143.8,566.8 126.2,558.9 108.7,551.9 91.1,545.6 73.5,540 56,535 56,667.8Z" fill="#bdd7ec"/>
<path d="M57.8,667.8 266.6,667.8 266.6,630.4 257.8,628.6 249.1,626 240.3,622.8 231.5,618.8 215.7,610.2 184.1,590.9 168.3,581.8 149,571.6 131.5,563.3 112.2,555.2 94.6,548.7 75.3,542.3 56,536.7 56,667.8Z" fill="#bcd7eb"/>
<path d="M57.8,667.8 266.6,667.8 266.6,636.6 257.8,634.5 249.1,631.7 242,628.9 233.3,624.6 219.2,616.4 187.6,596 171.8,586.4 154.3,576.6 135,567 115.7,558.6 98.1,551.8 77.1,544.6 56,538.4 56,667.8Z" fill="#bad6eb"/>
<path d="M57.8,667.8 266.6,667.8 266.6,642.8 257.8,640.5 250.8,638 243.8,635 235,630.4 222.7,622.8 192.3,602 175.3,591.1 157.4,580.6 138.5,570.8 119.2,562 98.1,553.6 77.1,546.3 56,540 56,667.8Z" fill="#b8d5ea"/>
<path d="M57.8,667.8 266.6,667.8 266.6,649 259.6,647 252.6,644.5 245.5,641.2 238.5,637.4 226.2,629.5 195.1,606.9 178.9,595.9 161.3,585.1 142,574.7 122.7,565.5 101.6,556.8 78.8,548.6 56,541.7 56,667.8Z" fill="#b7d4ea"/>
<path d="M57.8,667.8 266.6,667.8 266.6,655.2 259.6,653 252.6,650.2 240.3,643.5 228,635 197.8,611.9 182.4,600.8 164.8,589.5 145.5,578.6 124.4,568.2 103.4,559.3 80.6,550.9 56,543.3 56,667.8Z" fill="#b5d4e9"/>
<path d="M57.8,667.8 266.6,667.8 266.6,661.4 259.6,659 254.3,656.7 242,649.6 231.5,642 202.4,618.4 185.9,605.9 167.9,593.8 149,582.6 128,571.8 105.1,561.8 82.3,553.2 56,544.9 56,667.8Z" fill="#b4d3e9"/>
<path d="M57.8,667.8 266.6,667.6 259.6,665 254.3,662.4 243.8,655.9 233.3,647.8 204.7,623.4 190.3,611.9 171.9,598.7 152.5,586.7 129.7,574.6 106.9,564.3 82.3,554.9 56,546.5 56,667.8Z" fill="#b3d3e8"/>
<path d="M57.8,667.8 253.8,667.8 247.3,663.6 238.5,656.7 206.9,628.3 191.1,615.2 173.6,602.2 156,590.9 133.2,578.3 108.7,566.8 82.3,556.6 56,548.1 56,667.8Z" fill="#b0d2e7"/>
<path d="M57.8,667.8 246,667.8 235,658.2 208.9,633.3 195.9,621.7 176.9,606.9 157.8,594.1 135,581.1 110.4,569.3 84.1,558.9 56,549.7 56,667.8Z" fill="#afd1e7"/>
<path d="M57.8,667.8 240.4,667.8 212.6,639.8 196.5,625 178.1,610.2 157.8,596.2 147.3,589.8 135,583 110.4,571.1 84.1,560.5 56,551.2 56,667.8Z" fill="#aed1e7"/>
<path d="M57.8,667.8 235.9,667.8 214.3,644.8 197.2,628.3 178.9,613.1 168.3,605.4 157.8,598.3 147.3,591.9 135,584.9 110.4,572.9 84.1,562.2 56,552.8 56,667.8Z" fill="#add0e6"/>
<path d="M57.8,667.8 232.1,667.8 211.3,644.8 194.2,628.3 176.3,613.5 156,599.3 135,586.8 122.7,580.5 110.4,574.6 84.1,563.8 56,554.3 56,667.8Z" fill="#abd0e6"/>
<path d="M57.8,667.8 228.8,667.8 210,646.4 193.2,630 175.3,615.1 164.8,607.3 154.5,600.4 143.8,593.7 132.2,587.2 108.7,575.6 82.3,564.8 56,555.9 56,667.8Z" fill="#aacfe5"/>
<path d="M57.8,667.8 225.8,667.8 208.7,648.1 192.2,631.6 182.8,623.4 173.6,616 153.9,602 143.3,595.4 131.8,588.8 108.7,577.3 82.3,566.4 56,557.4 56,667.8Z" fill="#a8cee4"/>
<path d="M57.8,667.8 222.9,667.8 214.8,657.9 206.1,648.1 189.5,631.6 171.8,616.8 152.5,603.1 142,596.6 129.7,589.6 106.9,578.2 82.3,568 56,558.9 56,667.8Z" fill="#a6cee4"/>
<path d="M57.8,667.8 220.3,667.8 205,649.7 188.6,633.3 179.2,625 170.1,617.6 150.8,604 129.7,591.4 106.9,579.9 82.3,569.6 56,560.5 56,667.8Z" fill="#a5cde3"/>
<path d="M57.8,667.8 217.8,667.8 202.5,649.7 194.6,641.5 186,633.3 168.3,618.4 149.8,605.3 129.7,593.2 106.9,581.6 82.3,571.2 56,562 56,667.8Z" fill="#a4cce3"/>
<path d="M57.8,667.8 215.3,667.8 201.5,651.3 193.7,643.1 185.2,634.9 167.7,620.1 149,606.7 128,594.1 105.1,582.5 81.2,572.4 56,563.5 56,667.8Z" fill="#a3cce3"/>
<path d="M57.8,667.8 213,667.8 199.1,651.3 191.2,643.1 182.6,634.9 165,620.1 147.3,607.5 127.2,595.4 105.1,584.2 81.3,574 56,565 56,667.8Z" fill="#a1cbe2"/>
<path d="M57.8,667.8 210.7,667.8 196.7,651.3 188.8,643.1 180.6,635.3 164.4,621.7 145.9,608.6 126.2,596.7 104.4,585.5 80.6,575.3 56,566.5 56,667.8Z" fill="#9fcae1"/>
<path d="M57.8,667.8 208.4,667.8 194.4,651.3 178.9,636 161.7,621.7 143.8,609.1 124.4,597.5 103.4,586.7 80.6,576.9 56,568 56,667.8Z" fill="#9dcae1"/>
<path d="M57.8,667.8 206.2,667.8 192.1,651.3 177.1,636.7 161.2,623.4 142.6,610.2 122.7,598.3 101.6,587.6 78.8,577.8 56,569.5 56,667.8Z" fill="#9cc9e1"/>
<path d="M57.8,667.8 204.1,667.8 189.8,651.3 175.3,637.3 159.5,624.2 142,611.7 122.7,600 101.6,589.2 78.8,579.3 56,571 56,667.8Z" fill="#9ac8e0"/>
<path d="M57.8,667.8 201.9,667.8 189.1,653 173.9,638.2 157.8,624.8 140.2,612.4 120.9,600.8 100.8,590.5 78.8,580.9 56,572.5 56,667.8Z" fill="#99c7e0"/>
<path d="M57.8,667.8 199.8,667.8 186.8,653 171.8,638.5 156,625.5 139.1,613.5 120,602 99.9,591.7 78.8,582.4 56,574 56,667.8Z" fill="#97c6df"/>
<path d="M57.8,667.8 197.7,667.8 184.6,653 170.9,639.8 155,626.7 138.5,615 119.8,603.6 99.9,593.3 78.8,584 56,575.4 56,667.8Z" fill="#94c4df"/>
<path d="M57.8,667.8 195.6,667.8 182.4,653 168.5,639.8 152.5,626.8 136.7,615.7 119.2,605 99.9,594.9 78.8,585.5 56,576.9 56,667.8Z" fill="#92c4de"/>
<path d="M57.8,667.8 193.5,667.8 180.6,653.5 166.6,640.2 150.8,627.4 135,616.3 117.4,605.7 98.1,595.7 77.1,586.4 56,578.4 56,667.8Z" fill="#91c3de"/>
<path d="M57.8,667.8 191.5,667.8 178.9,654 164.8,640.7 149.5,628.3 133.2,617 115.7,606.5 96.4,596.5 77.1,587.9 56,579.9 56,667.8Z" fill="#8fc2de"/>
<path d="M57.8,667.8 189.4,667.8 177.1,654.4 163.3,641.5 149,629.9 132.6,618.4 115.7,608.2 96.4,598.1 77.1,589.5 56,581.3 56,667.8Z" fill="#8dc1dd"/>
<path d="M57.8,667.8 187.3,667.8 175.1,654.6 161.3,641.8 147.3,630.5 131.5,619.5 113.9,608.9 96.4,599.7 77.1,591 56,582.8 56,667.8Z" fill="#8cc0dd"/>
<path d="M57.8,667.8 185.3,667.8 172.9,654.6 159.5,642.3 145.5,631.1 129.7,620.1 112.2,609.6 94.6,600.5 75.3,591.8 56,584.3 56,667.8Z" fill="#89bedc"/>
<path d="M57.8,667.8 183.2,667.8 170.7,654.6 157.8,642.8 143.7,631.6 128,620.8 112.2,611.3 94.5,602 75.3,593.3 56,585.7 56,667.8Z" fill="#87bddc"/>
<path d="M57.8,667.8 181.2,667.8 168.6,654.6 156,643.3 142,632.3 126.7,621.7 110.4,612 92.9,602.8 75.3,594.8 56,587.2 56,667.8Z" fill="#85bcdc"/>
<path d="M57.8,667.8 179.2,667.8 166.6,654.8 154.3,643.8 140.8,633.3 126.2,623.2 110.2,613.5 92.9,604.4 75.3,596.4 56,588.7 56,667.8Z" fill="#84bcdb"/>
<path d="M57.8,667.8 177.1,667.8 164.8,655.3 152.5,644.3 138.5,633.4 124.4,623.8 108.7,614.3 92.9,606 75.3,597.9 56,590.1 56,667.8Z" fill="#82bbdb"/>
<path d="M57.8,667.8 175.1,667.8 163.1,655.7 150.8,644.8 136.7,633.9 122.7,624.4 107.2,615.2 91.1,606.7 73.7,598.7 56,591.6 56,667.8Z" fill="#7fb9da"/>
<path d="M57.8,667.8 173,667.8 161.5,656.3 149,645.3 135.5,634.9 120.9,625 106.9,616.6 91.1,608.3 73.6,600.2 56,593.1 56,667.8Z" fill="#7db8da"/>
<path d="M57.8,667.8 171,667.8 159.5,656.5 147.3,645.8 135,636.3 120.8,626.7 105.1,617.3 89.3,609 73.5,601.7 56,594.5 56,667.8Z" fill="#7cb7da"/>
<path d="M57.8,667.8 168.9,667.8 157.8,656.9 145.7,646.4 132.8,636.5 119.2,627.4 105.1,618.9 89.3,610.6 73.5,603.2 56,596 56,667.8Z" fill="#7ab6d9"/>
<path d="M57.8,667.8 166.9,667.8 156,657.3 143.8,646.7 131.5,637.4 118,628.3 103.4,619.6 88.8,611.9 73.5,604.7 56,597.4 56,667.8Z" fill="#79b5d9"/>
<path d="M57.8,667.8 164.8,667.8 154.3,657.7 143.1,648.1 130.1,638.2 117.4,629.7 103.4,621.2 87.6,612.8 71.8,605.4 56,598.9 56,667.8Z" fill="#77b5d9"/>
<path d="M57.8,667.8 162.8,667.8 152.4,657.9 140.7,648.1 128,638.5 115.7,630.2 101.6,621.9 87.6,614.4 71.8,606.9 56,600.3 56,667.8Z" fill="#74b3d8"/>
<path d="M57.8,667.8 160.7,667.8 150.2,657.9 138.5,648.1 126.2,639 113.9,630.8 99.9,622.5 86,615.2 71.8,608.4 56,601.8 56,667.8Z" fill="#72b2d8"/>
<path d="M57.8,667.8 158.6,667.8 148,657.9 136.7,648.6 124.9,639.8 112.5,631.6 99.9,624.1 85.8,616.6 71.8,609.9 56,603.2 56,667.8Z" fill="#71b1d7"/>
<path d="M57.8,667.8 156.6,667.8 145.8,657.9 135.8,649.7 124.4,641.3 112.2,633.1 99.9,625.7 85.8,618.2 71.8,611.4 56,604.7 56,667.8Z" fill="#6fb0d7"/>
<path d="M57.8,667.8 154.5,667.8 143.8,658.1 133.5,649.7 122.2,641.5 110.4,633.7 98.1,626.3 84.1,618.8 70,612.1 56,606.1 56,667.8Z" fill="#6dafd7"/>
<path d="M57.8,667.8 152.4,667.8 142,658.5 131.5,650 120.9,642.3 108.7,634.2 96.4,627 83.5,620.1 70,613.6 56,607.6 56,667.8Z" fill="#6caed6"/>
<path d="M57.8,667.8 150.3,667.8 140.2,658.9 129.7,650.4 119.2,642.8 107.1,634.9 94.6,627.6 82.3,621 70,615.1 56,609 56,667.8Z" fill="#69add5"/>
<path d="M57.8,667.8 148.2,667.8 138.5,659.3 128.6,651.3 117.4,643.3 106.9,636.4 94.6,629.2 82.3,622.6 70,616.6 56,610.5 56,667.8Z" fill="#68acd5"/>
<path d="M57.8,667.8 146.1,667.8 136.6,659.6 126.2,651.3 115.7,643.8 105.1,637 94.6,630.7 82.3,624.1 70,618.1 56,611.9 56,667.8Z" fill="#66abd4"/>
<path d="M57.8,667.8 144,667.8 134.4,659.6 124.4,651.8 113.9,644.3 103.4,637.5 92.9,631.3 80.6,624.7 56,613.3 56,667.8Z" fill="#65aad4"/>
<path d="M57.8,667.8 141.9,667.8 133.2,660.4 123.7,653 113.9,646 103.4,639.2 92.9,632.9 80.6,626.3 56,614.8 56,667.8Z" fill="#64a9d3"/>
<path d="M57.8,667.8 139.7,667.8 131.5,660.8 121.3,653 101.6,639.7 80.6,627.8 68.3,621.7 56,616.2 56,667.8Z" fill="#63a8d3"/>
<path d="M57.8,667.8 137.6,667.8 128,659.8 119.2,653.1 99.9,640.3 78.8,628.4 56,617.7 56,667.8Z" fill="#60a7d2"/>
<path d="M57.8,667.8 135.5,667.8 117.4,653.6 99.2,641.5 78.8,629.9 56,619.1 56,667.8Z" fill="#5fa6d1"/>
<path d="M57.8,667.8 133.3,667.8 116.5,654.6 98.1,642.4 77.1,630.6 56,620.5 56,667.8Z" fill="#5da5d1"/>
<path d="M57.8,667.8 131.2,667.8 114.1,654.6 96.4,642.9 77.1,632.1 56,622 56,667.8Z" fill="#5ca4d0"/>
<path d="M57.8,667.8 129,667.8 112.2,654.9 94.6,643.5 75.3,632.7 56,623.4 56,667.8Z" fill="#5ba3d0"/>
<path d="M57.8,667.8 126.8,667.8 110.4,655.4 94.1,644.8 75.3,634.2 56,624.9 56,667.8Z" fill="#58a1cf"/>
<path d="M57.8,667.8 124.6,667.8 109.3,656.3 92.9,645.6 75.3,635.7 56,626.3 56,667.8Z" fill="#57a0ce"/>
<path d="M57.8,667.8 122.4,667.8 106.9,656.3 91.1,646.1 74.1,636.5 56,627.7 56,667.8Z" fill="#56a0ce"/>
<path d="M57.8,667.8 120.2,667.8 105.1,656.7 89.3,646.6 73.5,637.8 56,629.2 56,667.8Z" fill="#549fcd"/>
<path d="M57.8,667.8 118,667.8 104.5,657.9 89.2,648.1 73.6,639.3 56,630.6 56,667.8Z" fill="#539ecd"/>
<path d="M57.8,667.8 115.8,667.8 102.1,657.9 87.6,648.7 71.8,639.8 56,632 56,667.8Z" fill="#529dcc"/>
<path d="M57.8,667.8 113.5,667.8 99.9,658 85.8,649.2 71.8,641.3 56,633.5 56,667.8Z" fill="#4f9bcb"/>
<path d="M57.8,667.8 111.3,667.8 98.1,658.5 85.8,650.7 71.8,642.8 56,634.9 56,667.8Z" fill="#4e9acb"/>
<path d="M57.8,667.8 109,667.8 96.4,658.9 84.1,651.2 70,643.4 56,636.3 56,667.8Z" fill="#4d99ca"/>
<path d="M57.8,667.8 106.8,667.8 94.6,659.4 82.3,651.7 69.9,644.8 56,637.8 56,667.8Z" fill="#4b98ca"/>
<path d="M57.8,667.8 104.5,667.8 92.9,659.8 81.9,653 70,646.3 56,639.2 56,667.8Z" fill="#4a98c9"/>
<path d="M57.8,667.8 102.2,667.8 91.1,660.3 80.6,653.8 68.3,646.9 56,640.6 56,667.8Z" fill="#4997c9"/>
<path d="M57.8,667.8 99.9,667.8 89.3,660.7 78.8,654.3 56,642 56,667.8Z" fill="#4695c8"/>
<path d="M57.8,667.8 97.6,667.8 77.1,654.7 56,643.5 56,667.8Z" fill="#4594c7"/>
<path d="M57.8,667.8 95.3,667.8 77.1,656.3 56,644.9 56,667.8Z" fill="#4493c7"/>
<path d="M57.8,667.8 92.9,667.8 75.3,656.7 56,646.3 56,667.8Z" fill="#4292c6"/>
<path d="M57.8,667.8 90.6,667.8 73.5,657.2 56,647.8 56,667.8Z" fill="#4191c6"/>
<path d="M57.8,667.8 88.2,667.8 72.2,657.9 56,649.2 56,667.8Z" fill="#4090c5"/>
<path d="M57.8,667.8 85.8,667.8 71.8,659.2 56,650.6 56,667.8Z" fill="#3e8ec4"/>
<path d="M57.8,667.8 83.4,667.8 70,659.7 56,652 56,667.8Z" fill="#3d8dc4"/>
<path d="M57.8,667.8 81,667.8 68.3,660.1 56,653.5 56,667.8Z" fill="#3c8cc3"/>
<path d="M57.8,667.8 78.6,667.8 67.6,661.2 56,654.9 56,667.8Z" fill="#3b8bc2"/>
<path d="M57.8,667.8 76.2,667.8 56,656.3 56,667.8Z" fill="#3a8ac2"/>
<path d="M57.8,667.8 73.7,667.8 56,657.7 56,667.8Z" fill="#3888c1"/>
<path d="M57.8,667.8 71.3,667.8 56,659.2 56,667.8Z" fill="#3787c0"/>
<path d="M57.8,667.8 68.8,667.8 56,660.6 56,667.8Z" fill="#3686c0"/>
<path d="M57.8,667.8 66.3,667.8 56,662 56,667.8Z" fill="#3585bf"/>
<path d="M57.8,667.8 63.8,667.8 56,663.4 56,667.8Z" fill="#3484bf"/>
<path d="M57.8,667.8 61.3,667.8 56,664.9 56,667.8Z" fill="#3383be"/>
<path d="M57.8,667.8 58.7,667.8 56,666.3 56,667.8Z" fill="#3181bd"/>
</g>
<g clip-path="url(#clipR)">
<rect x="405.2" y="470.4" width="210.3" height="197.4" fill="#b40426"/>
<path d="M407,667.8 615.5,667.8 615.5,470.4 405.2,470.4 405.2,667.8Z" fill="#b40426"/>
<path d="M407,667.8 615.5,667.8 615.5,470.4 405.2,470.4 405.2,667.8Z" fill="#b40426"/>
<path d="M407,667.8 615.5,667.8 615.5,470.4 405.2,470.4 405.2,667.8Z" fill="#b40426"/>
<path d="M407,667.8 615.5,667.8 615.5,470.4 405.2,470.4 405.2,667.8Z" fill="#b40426"/>
<path d="M407,667.4 407.6,667.8 615.5,667.8 615.5,470.4 405.2,470.4 405.2,666.4Z" fill="#b40426"/>
<path d="M408.7,667 410.1,667.8 615.5,667.8 615.5,470.4 405.2,470.4 405.2,665.1 407.1,666.2Z" fill="#b40426"/>
<path d="M410.5,666.7 412.5,667.8 615.5,667.8 615.5,470.4 405.2,470.4 405.2,663.7 409.6,666.2Z" fill="#b40426"/>
<path d="M412.2,666.3 414.8,667.8 615.5,667.8 615.5,470.4 405.2,470.4 405.2,662.4 412,666.2Z" fill="#b40426"/>
<path d="M415.7,666.9 417.2,667.8 615.5,667.8 615.5,470.4 405.2,470.4 405.2,661 414.4,666.2Z" fill="#b40426"/>
<path d="M417.5,666.5 419.6,667.8 615.5,667.8 615.5,470.4 405.2,470.4 405.2,659.7 416.8,666.2Z" fill="#b40426"/>
<path d="M419.2,666.2 421.9,667.8 615.5,667.8 615.5,470.4 405.2,470.4 405.2,658.3 419.2,666.2Z" fill="#b40426"/>
<path d="M422.7,666.9 424.3,667.8 615.5,667.8 615.5,470.4 405.2,470.4 405.2,657 421.5,666.2Z" fill="#b40426"/>
<path d="M424.5,666.5 426.6,667.8 615.5,667.8 615.5,470.4 405.2,470.4 405.2,655.6 423.9,666.2Z" fill="#b40426"/>
<path d="M428,667.2 428.9,667.8 615.5,667.8 615.5,470.4 405.2,470.4 405.2,654.3 426.2,666.2Z" fill="#b40426"/>
<path d="M429.7,666.9 431.2,667.8 615.5,667.8 615.5,470.4 405.2,470.4 405.2,652.9 417.5,659.5 428.6,666.2Z" fill="#b50927"/>
<path d="M431.5,666.5 433.4,667.8 615.5,667.8 615.5,470.4 405.2,470.4 405.2,651.5 419.2,659.1 430.9,666.2Z" fill="#b70d28"/>
<path d="M433.2,666.2 435.7,667.8 615.5,667.8 615.5,470.4 405.2,470.4 405.2,650.2 419.2,657.7 433.2,666.2Z" fill="#b8122a"/>
<path d="M436.7,667 438,667.8 615.5,667.8 615.5,470.4 405.2,470.4 405.2,648.8 421,657.3 435.5,666.2Z" fill="#bb1b2c"/>
<path d="M438.5,666.7 440.2,667.8 615.5,667.8 615.5,470.4 405.2,470.4 405.2,647.5 421.6,656.3 437.7,666.2Z" fill="#bd1f2d"/>
<path d="M440.2,666.3 442.4,667.8 615.5,667.8 615.5,470.4 405.2,470.4 405.2,646.1 422.7,655.5 440,666.2Z" fill="#be242e"/>
<path d="M443.8,667.2 444.7,667.8 615.5,667.8 615.5,470.4 405.2,470.4 405.2,644.7 424.5,655.1 442.2,666.2Z" fill="#c0282f"/>
<path d="M445.5,666.9 446.9,667.8 615.5,667.8 615.5,470.4 405.2,470.4 405.2,643.4 426.2,654.6 444.5,666.2Z" fill="#c32e31"/>
<path d="M447.3,666.5 449.1,667.8 615.5,667.8 615.5,470.4 405.2,470.4 405.2,642 426.2,653.2 446.7,666.2Z" fill="#c43032"/>
<path d="M449,666.2 451.3,667.8 615.5,667.8 615.5,470.4 405.2,470.4 405.2,640.7 428,652.8 438.5,659.2 448.9,666.2Z" fill="#c53334"/>
<path d="M452.5,667.1 453.4,667.8 615.5,667.8 615.5,470.4 405.2,470.4 405.2,639.3 417.5,645.5 429.7,652.4 440.2,658.8 451.1,666.2Z" fill="#c73635"/>
<path d="M454.3,666.8 455.6,667.8 615.5,667.8 615.5,470.4 405.2,470.4 405.2,637.9 417.5,644.1 430.5,651.3 442,658.5 453.3,666.2Z" fill="#ca3b37"/>
<path d="M456,666.5 457.8,667.8 615.5,667.8 615.5,470.4 405.2,470.4 405.2,636.6 419.2,643.6 431.5,650.5 443.8,658.1 455.5,666.2Z" fill="#cb3e38"/>
<path d="M457.8,666.2 459.9,667.8 615.5,667.8 615.5,470.4 405.2,470.4 405.2,635.2 419.2,642.2 432.6,649.7 445.5,657.7 457.7,666.2Z" fill="#cc403a"/>
<path d="M461.3,667.2 462,667.8 615.5,667.8 615.5,470.4 405.2,470.4 405.2,633.9 419.2,640.8 433.2,648.6 447.3,657.3 459.8,666.2Z" fill="#cd423b"/>
<path d="M463,666.9 464.2,667.8 615.5,667.8 615.5,470.4 405.2,470.4 405.2,632.5 421,640.3 435,648.2 449,657 462,666.2Z" fill="#d0473d"/>
<path d="M464.8,666.7 466.3,667.8 615.5,667.8 615.5,470.4 405.2,470.4 405.2,631.1 421,638.9 436.7,647.7 450.8,656.6 464.1,666.2Z" fill="#d1493f"/>
<path d="M466.5,666.4 468.4,667.8 615.5,667.8 615.5,470.4 405.2,470.4 405.2,629.8 421,637.5 437,646.4 452.5,656.2 466.3,666.2Z" fill="#d24b40"/>
<path d="M470,667.5 470.5,667.8 615.5,667.8 615.5,470.4 405.2,470.4 405.2,628.4 422.7,637 438.5,645.8 454.3,655.9 468.4,666.2Z" fill="#d44e41"/>
<path d="M471.8,667.2 472.6,667.8 615.5,667.8 615.5,470.4 405.2,470.4 405.2,627 422.7,635.6 440.2,645.3 456,655.5 470.5,666.2Z" fill="#d65244"/>
<path d="M473.5,666.9 474.6,667.8 615.5,667.8 615.5,470.4 405.2,470.4 405.2,625.7 424.2,634.9 441.8,644.8 457.8,655.1 472.6,666.2Z" fill="#d75445"/>
<path d="M475.3,666.6 476.7,667.8 615.5,667.8 615.5,470.4 405.2,470.4 405.2,624.3 424.5,633.6 442,643.4 459.4,654.6 474.7,666.2Z" fill="#d85646"/>
<path d="M477.1,666.4 478.8,667.8 615.5,667.8 615.5,470.4 405.2,470.4 405.2,622.9 424.5,632.2 443.8,642.9 461.3,654.4 476.8,666.2Z" fill="#d95847"/>
<path d="M480.6,667.6 615.5,667.8 615.5,470.4 405.2,470.4 405.2,621.6 426.2,631.6 445.5,642.5 463,654 478.9,666.2Z" fill="#dc5d4a"/>
<path d="M482.3,667.3 482.9,667.8 615.5,667.8 615.5,470.4 405.2,470.4 405.2,620.2 426.2,630.2 445.5,641 463.9,653 480.9,666.2Z" fill="#dd5f4b"/>
<path d="M484.1,667.1 484.9,667.8 615.5,667.8 615.5,470.4 405.2,470.4 405.2,618.8 426.2,628.8 447.3,640.5 466.1,653 483,666.2Z" fill="#de614d"/>
<path d="M485.8,666.8 487,667.8 615.5,667.8 615.5,470.4 405.2,470.4 405.2,617.5 428,628.2 448.7,639.8 468.3,652.9 485.1,666.2Z" fill="#df634e"/>
<path d="M487.6,666.6 489,667.8 615.5,667.8 615.5,470.4 405.2,470.4 405.2,616.1 428,626.8 449,638.5 468.4,651.3 478.8,659.3 487.1,666.2Z" fill="#e16751"/>
<path d="M489.3,666.3 491,667.8 615.5,667.8 615.5,470.4 405.2,470.4 405.2,614.7 429.7,626.2 450.8,638 470.7,651.3 480.6,658.9 489.2,666.2Z" fill="#e26952"/>
<path d="M492.8,667.6 615.5,667.8 615.5,470.4 405.2,470.4 405.2,613.4 429.7,624.8 442,631.4 452.5,637.6 463,644.4 472.9,651.3 482.3,658.6 491.2,666.2Z" fill="#e36b54"/>
<path d="M494.6,667.4 495,667.8 615.5,667.8 615.5,470.4 405.2,470.4 405.2,612 429.9,623.4 442,629.9 453.4,636.5 463.6,643.1 473.5,650.2 483.6,657.9 493.2,666.2Z" fill="#e36c55"/>
<path d="M496.3,667.2 497,667.8 615.5,667.8 615.5,470.4 405.2,470.4 405.2,610.6 419.2,616.8 431.5,622.8 443.8,629.3 454.3,635.5 464.8,642.3 475.3,649.8 485.7,657.9 495.2,666.2Z" fill="#e57058"/>
<path d="M498.1,666.9 499,667.8 615.5,667.8 615.5,470.4 405.2,470.4 405.2,609.2 418.8,615.2 431.5,621.3 443.8,627.8 455.8,634.9 466.5,641.9 477.5,649.7 487.6,657.7 497.2,666.2Z" fill="#e67259"/>
<path d="M499.8,666.7 501,667.8 615.5,667.8 615.5,470.4 405.2,470.4 405.2,607.9 419.2,613.9 431.5,619.8 443.8,626.3 456,633.5 468.3,641.5 478.8,649 489.3,657.4 499.3,666.2Z" fill="#e7745b"/>
<path d="M501.6,666.5 503,667.8 615.5,667.8 615.5,470.4 405.2,470.4 405.2,606.5 419.2,612.5 433.2,619.2 445.5,625.8 457.8,633 470,641 480.6,648.6 491.1,657.1 501.3,666.2Z" fill="#e8765c"/>
<path d="M503.3,666.2 505,667.8 615.5,667.8 615.5,470.4 405.2,470.4 405.2,605.1 419.2,611.1 433.2,617.8 446.9,625 459.5,632.5 471.8,640.6 482.3,648.3 492.8,656.8 503.3,666.2Z" fill="#e97a5f"/>
<path d="M506.8,667.7 615.5,667.8 615.5,470.4 405.2,470.4 405.2,603.7 420.4,610.2 434.2,616.8 447.3,623.7 460.6,631.6 473.1,639.8 484.1,647.9 494.6,656.5 505.2,666.2Z" fill="#ea7b60"/>
<path d="M508.6,667.5 508.9,667.8 615.5,667.8 615.5,470.4 405.2,470.4 405.2,602.4 421,609 435,615.7 449,623.2 461.3,630.4 473.5,638.5 485.8,647.5 496.5,656.3 507.2,666.2Z" fill="#eb7d62"/>
<path d="M510.4,667.3 510.9,667.8 615.5,667.8 615.5,470.4 405.2,470.4 405.2,601 421,607.6 435,614.2 449.2,621.7 463,629.9 475.5,638.2 487.6,647.1 498.6,656.3 509.2,666.2Z" fill="#ec7f63"/>
<path d="M512.1,667.1 512.8,667.8 615.5,667.8 615.5,470.4 405.2,470.4 405.2,599.6 421,606.2 436.7,613.6 450.8,621.1 464.8,629.4 477.1,637.6 489.3,646.7 500.7,656.3 511.2,666.2Z" fill="#ed8366"/>
<path d="M513.9,666.9 514.8,667.8 615.5,667.8 615.5,470.4 405.2,470.4 405.2,598.2 421,604.8 436.7,612.1 450.8,619.5 464.8,627.8 478.8,637.1 491.1,646.4 502.8,656.3 513.2,666.2Z" fill="#ee8468"/>
<path d="M515.6,666.6 516.7,667.8 615.5,667.8 615.5,470.4 405.2,470.4 405.2,596.8 421,603.3 436.7,610.6 452.5,618.9 466.5,627.3 480.4,636.5 492.8,646 504.9,656.3 515.1,666.2Z" fill="#ee8669"/>
<path d="M517.4,666.4 518.7,667.8 615.5,667.8 615.5,470.4 405.2,470.4 405.2,595.5 422.7,602.7 438.5,610 454.3,618.4 468.2,626.7 482.3,636.2 494.6,645.6 506.8,656.2 517.1,666.2Z" fill="#ef886b"/>
<path d="M519.1,666.2 520.6,667.8 615.5,667.8 615.5,470.4 405.2,470.4 405.2,594.1 422.7,601.2 438.5,608.5 454.3,616.8 468.3,625.1 482.3,634.5 495.8,644.8 507.3,654.6 519.1,666.2Z" fill="#f08b6e"/>
<path d="M522.6,667.8 615.5,667.8 615.5,470.4 405.2,470.4 405.2,592.7 422.7,599.8 440.2,607.9 456,616.2 471.8,625.7 485.2,634.9 498.1,644.8 511.1,656.3 522.6,667.8Z" fill="#f18d6f"/>
<path d="M524.4,667.6 615.5,667.8 615.5,470.4 405.2,470.4 405.2,591.3 422.7,598.3 440.2,606.4 456,614.7 471.8,624.1 485.8,633.6 499.8,644.4 512.1,655.3 523,666.2Z" fill="#f18f71"/>
<path d="M526.1,667.4 526.5,667.8 615.5,667.8 615.5,470.4 405.2,470.4 405.2,589.9 423.1,597.1 441.1,605.3 457.8,614.1 473.3,623.4 487.6,633.1 500.5,643.1 513.5,654.6 524.9,666.2Z" fill="#f29072"/>
<path d="M527.9,667.2 528.4,667.8 615.5,667.8 615.5,470.4 405.2,470.4 405.2,588.5 424.5,596.2 442,604.2 457.8,612.5 473.5,621.9 487.9,631.6 501.6,642.2 513.9,653 526.9,666.2Z" fill="#f39475"/>
<path d="M529.6,667 530.3,667.8 615.5,667.8 615.5,470.4 405.2,470.4 405.2,587.1 424.5,594.8 442,602.7 459.5,611.9 475.3,621.3 489.3,630.9 503.3,641.8 516,653 528.9,666.2Z" fill="#f39577"/>
<path d="M531.4,666.8 532.3,667.8 615.5,667.8 615.5,470.4 405.2,470.4 405.2,585.7 424.5,593.3 442,601.2 459.5,610.3 476,620.1 491.1,630.4 505.3,641.5 518.1,653 530.8,666.2Z" fill="#f39778"/>
<path d="M533.1,666.6 534.2,667.8 615.5,667.8 615.5,470.4 405.2,470.4 405.2,584.3 424.5,591.9 443.4,600.4 461.3,609.7 477.1,619.1 492.8,629.9 506.8,640.9 520.2,653 532.8,666.2Z" fill="#f4987a"/>
<path d="M534.9,666.3 536.2,667.8 615.5,667.8 615.5,470.4 405.2,470.4 405.2,582.9 424.7,590.5 443.8,599 461.3,608.1 478.8,618.5 494.6,629.4 508.6,640.5 522.3,653 534.7,666.2Z" fill="#f59c7d"/>
<path d="M538.4,667.8 615.5,667.8 615.5,470.4 405.2,470.4 405.2,581.5 426.2,589.7 445.5,598.3 464.8,608.4 481.4,618.4 497.8,630 512,641.5 526,654.6 538.1,667.8Z" fill="#f59d7e"/>
<path d="M540.1,667.8 615.5,667.8 615.5,470.4 405.2,470.4 405.2,580.1 426.2,588.2 446.1,597.1 464.8,606.8 482.3,617.4 498.1,628.4 513.9,641.1 527.9,654.4 540.1,667.8Z" fill="#f59f80"/>
<path d="M541.9,667.6 615.5,667.8 615.5,470.4 405.2,470.4 405.2,578.7 426.2,586.7 445.8,595.4 464.8,605.2 482.3,615.6 498.3,626.7 513.9,639.2 527.9,652.2 540.6,666.2Z" fill="#f5a081"/>
<path d="M543.6,667.4 544,667.8 615.5,667.8 615.5,470.4 405.2,470.4 405.2,577.3 426.9,585.5 447.3,594.6 466.5,604.5 484.1,615 500.7,626.7 515.6,638.7 529.6,651.9 542.6,666.2Z" fill="#f6a385"/>
<path d="M545.4,667.1 546,667.8 615.5,667.8 615.5,470.4 405.2,470.4 405.2,575.9 428,584.5 448.8,593.8 468.3,603.9 485.8,614.4 501.6,625.5 517.4,638.2 531.4,651.5 544.6,666.2Z" fill="#f6a586"/>
<path d="M547.2,666.8 548,667.8 615.5,667.8 615.5,470.4 405.2,470.4 405.2,574.5 428,583 449,592.3 468.3,602.2 487.1,613.5 503.5,625 519.6,638.2 533.4,651.3 546.6,666.2Z" fill="#f7a688"/>
<path d="M548.9,666.5 550,667.8 615.5,667.8 615.5,470.4 405.2,470.4 405.2,573.1 428,581.6 449,590.7 468.3,600.6 487.6,612.1 505.1,624.3 520.9,637.3 535.5,651.3 548.7,666.2Z" fill="#f7a889"/>
<path d="M552.4,667.8 615.5,667.8 615.5,470.4 405.2,470.4 405.2,571.7 428,580.1 450.8,590 470.9,600.4 490,611.9 508.5,625 524.2,638.2 539.2,653 552,667.8Z" fill="#f7aa8c"/>
<path d="M554.2,667.8 615.5,667.8 615.5,470.4 405.2,470.4 405.2,570.3 428.9,579 450.8,588.4 471.8,599.2 491.1,610.8 508.6,623.2 524.7,636.5 539.9,651.3 554.1,667.8Z" fill="#f7ac8e"/>
<path d="M555.9,667.5 556.1,667.8 615.5,667.8 615.5,470.4 405.2,470.4 405.2,568.9 428.5,577.3 450.8,586.9 471.8,597.5 491.1,609 509.2,621.7 526.1,635.7 540.5,649.7 554.8,666.2Z" fill="#f7ad90"/>
<path d="M557.7,667.1 558.2,667.8 615.5,667.8 615.5,470.4 405.2,470.4 405.2,567.4 429.7,576.3 452.5,586.1 473.5,596.8 493.2,608.6 511.8,621.7 527.9,635.2 542.7,649.7 557,666.2Z" fill="#f7af91"/>
<path d="M559.4,666.6 560.4,667.8 615.5,667.8 615.5,470.4 405.2,470.4 405.2,566 429.7,574.8 452.5,584.5 474.1,595.4 494.6,607.7 512.2,620.1 529.6,634.6 545,649.7 559.1,666.2Z" fill="#f7b194"/>
<path d="M562.9,667.8 615.5,667.8 615.5,470.4 405.2,470.4 405.2,564.6 429.7,573.3 454.3,583.7 475.3,594.4 496.3,607 514.8,620.1 532.3,634.9 540.9,643.1 548.7,651.3 562.6,667.8Z" fill="#f7b396"/>
<path d="M564.7,667.6 615.5,667.8 615.5,470.4 405.2,470.4 405.2,563.1 429.7,571.8 454.3,582.1 475.3,592.7 496.5,605.3 515.6,618.7 533,633.3 548.9,649 563.6,666.2Z" fill="#f7b497"/>
<path d="M566.4,666.9 567.2,667.8 615.5,667.8 615.5,470.4 405.2,470.4 405.2,561.7 431,570.7 454.4,580.6 477.1,591.9 498.1,604.4 517.4,618.1 534.9,632.7 550.4,648.1 565.9,666.2Z" fill="#a6c4fe"/>
<path d="M569.9,667.8 615.5,667.8 615.5,470.4 405.2,470.4 405.2,560.2 431.5,569.4 456,579.7 478.8,591.1 499.8,603.7 519.1,617.3 528.6,625 538,633.3 554.3,649.7 569.6,667.8Z" fill="#a5c3fe"/>
<path d="M571.7,667.2 572.2,667.8 615.5,667.8 615.5,470.4 405.2,470.4 405.2,558.8 431.5,567.9 456,578.1 478.8,589.4 491.1,596.3 501.6,602.9 521.1,616.8 538.7,631.6 555.3,648.1 570.9,666.2Z" fill="#a3c2fe"/>
<path d="M575.2,667.8 615.5,667.8 615.5,470.4 405.2,470.4 405.2,557.3 433.2,567 457.8,577.2 481.1,588.8 492.6,595.4 503.1,602 522.6,615.8 532,623.4 541.3,631.6 557.9,648.1 574.9,667.8Z" fill="#a1c0ff"/>
<path d="M576.9,666.8 577.8,667.8 615.5,667.8 615.5,470.4 405.2,470.4 405.2,555.8 431.5,564.8 457.8,575.6 481.3,587.2 503.3,600.2 513.9,607.3 524.4,615 542.2,630 559,646.4 576.4,666.2Z" fill="#9fbfff"/>
<path d="M580.5,667.2 581,667.8 615.5,667.8 615.5,470.4 405.2,470.4 405.2,554.4 431.5,563.2 457.8,573.9 482.3,585.9 504.1,598.7 524.4,612.8 543.2,628.3 560.2,644.8 579.6,666.2Z" fill="#9ebeff"/>
<path d="M584,667.1 584.7,667.8 615.5,667.8 615.5,470.4 405.2,470.4 405.2,552.9 433.2,562.3 459.5,573 484.1,585 505.1,597.3 524.4,610.6 534.5,618.4 544.2,626.7 561.5,643.1 583.1,666.2Z" fill="#9dbdff"/>
<path d="M587.5,666.5 588.8,667.8 615.5,667.8 615.5,470.4 405.2,470.4 405.2,551.4 433.2,560.7 459.5,571.3 484.1,583.2 496.3,590.1 506.8,596.5 526.8,610.2 545.2,625 561.2,639.8 587.1,666.2Z" fill="#9abbff"/>
<path d="M592.7,666.7 594.1,667.8 615.5,667.8 615.5,470.4 405.2,470.4 405.2,549.9 433.2,559.1 459.5,569.6 484.1,581.4 506.8,594.4 526.1,607.4 544.4,621.7 559.2,634.9 584,658.8 592.1,666.2Z" fill="#98b9ff"/>
<path d="M599.7,666.9 601.1,667.8 615.5,667.8 615.5,470.4 405.2,470.4 405.2,548.4 431.5,556.9 457.8,567.1 482.3,578.6 505.1,591.3 524,603.6 541.6,616.8 557.1,630 585.7,656.1 598.6,666.2Z" fill="#97b8ff"/>
<path d="M608.5,666.2 612.3,667.8 615.5,667.8 615.5,470.4 405.2,470.4 405.2,546.8 431.5,555.3 457.8,565.4 482.3,576.7 503.3,588.2 519.1,598 534.2,608.6 552.9,623.4 587.5,653 598,660.5 608.4,666.2Z" fill="#94b6ff"/>
<path d="M615.5,663 615.5,470.4 405.2,470.4 405.2,545.3 431.5,553.7 455,562.5 478.8,573.1 499.4,583.9 518.5,595.4 536.6,607.9 552.5,620.1 580.5,643.1 591,650.9 603.2,658.2 614.9,662.9Z" fill="#93b5fe"/>
<path d="M613.7,656.6 615.5,657.1 615.5,470.4 405.2,470.4 405.2,543.8 429.7,551.4 452.5,559.8 475.3,569.6 496.3,580.1 515.6,591.3 533.1,602.8 550,615.2 578.7,637.6 589.2,644.9 601.5,651.8 612.9,656.3Z" fill="#92b4fe"/>
<path d="M612,650.1 615.5,651.1 615.5,470.4 405.2,470.4 405.2,542.2 429.7,549.8 452.5,558 473.5,566.9 494.6,577.2 512.5,587.2 530.8,598.7 547.3,610.2 575.2,630.9 585.7,638 598,644.8 610.6,649.7Z" fill="#90b2fe"/>
<path d="M615.5,645.1 615.5,470.4 405.2,470.4 405.2,540.6 428,547.5 450.8,555.6 471.8,564.2 491.1,573.3 508.6,582.7 527.1,593.8 544.5,605.3 573.4,625.6 585.7,633.2 592.7,637 599.7,640.1 606.7,642.7 614.1,644.8Z" fill="#8db0fe"/>
<path d="M612,638.4 615.5,639.2 615.5,470.4 405.2,470.4 405.2,539.1 428,545.9 449,553.2 470,561.6 487.6,569.6 505.1,578.5 523.2,588.8 538.9,598.7 569.9,619.2 582.2,626.6 596.2,633.4 603.2,635.9 611.1,638.2Z" fill="#8caffe"/>
<path d="M608.5,631.7 615.5,633.2 615.5,470.4 405.2,470.4 405.2,537.5 426.2,543.6 447.3,550.8 466.5,558.2 485.8,566.7 503.3,575.3 520.9,584.9 535.7,593.8 566.4,613.1 578.7,620.1 592.7,626.6 599.7,629.2 608.1,631.6Z" fill="#8badfd"/>
<path d="M613.7,626.9 615.5,627.2 615.5,470.4 405.2,470.4 405.2,535.8 424.5,541.4 442,547.1 459.5,553.5 478.8,561.5 496.3,569.6 515.6,579.5 532.2,588.8 562.9,607.1 576.9,614.6 585.7,618.6 594.5,622 603.2,624.6 612.4,626.7Z" fill="#89acfd"/>
<path d="M610.2,620.4 615.5,621.2 615.5,470.4 405.2,470.4 405.2,534.2 422.7,539.1 442,545.3 459.5,551.6 477.1,558.6 494.6,566.5 512.1,575.1 559.4,601.2 573.4,608.3 582.2,612.2 591,615.4 599.7,618 608.9,620.1Z" fill="#86a9fc"/>
<path d="M615.5,615.3 615.5,470.4 405.2,470.4 405.2,532.5 426.2,538.5 443.8,544.1 461.3,550.3 480.6,558 506.8,570 557.7,596.4 576.9,605.2 585.7,608.5 594.5,611.1 605,613.6 614.5,615.2Z" fill="#85a8fc"/>
<path d="M610.2,608.6 615.5,609.3 615.5,470.4 405.2,470.4 405.2,530.8 426.2,536.7 443.8,542.2 461.3,548.3 478.8,555.1 505.1,566.6 554.2,590.7 573.4,599 591,604.7 599.7,606.7 610.2,608.6Z" fill="#84a7fc"/>
<path d="M606.7,602.1 615.5,603.2 615.5,470.4 405.2,470.4 405.2,529.1 422.7,533.8 440.2,539.1 457.8,545 475.3,551.5 499.8,561.7 548.9,584.4 568.2,592.3 578.7,595.9 587.5,598.3 605.8,602Z" fill="#82a6fb"/>
<path d="M615.5,597.2 615.5,470.4 405.2,470.4 405.2,527.3 438.5,536.6 470,547.3 498.1,558.4 548.9,580.4 566.4,587 578.7,590.7 589.2,593.3 601.5,595.5 614.2,597.1Z" fill="#80a3fa"/>
<path d="M608.5,590.5 615.5,591.2 615.5,470.4 405.2,470.4 405.2,525.5 436.7,534.1 466.5,543.8 492.8,553.6 543.6,574.3 561.2,580.6 573.4,584.2 584,586.7 596.2,589 607.9,590.5Z" fill="#7ea1fa"/>
<path d="M603.2,584 615.5,585.1 615.5,470.4 405.2,470.4 405.2,523.7 435,531.6 463,540.3 491.1,550.3 536.6,567.7 555.9,574.3 566.4,577.3 578.7,580.2 591,582.4 602.3,583.9Z" fill="#7da0f9"/>
<path d="M615.5,579 615.5,470.4 405.2,470.4 405.2,521.8 433.2,529 459.5,536.8 484.1,545 533.1,562.5 555.9,569.5 569.9,573 584,575.6 598,577.5 614.5,579Z" fill="#7b9ff9"/>
<path d="M608.5,572.5 615.5,572.9 615.5,470.4 405.2,470.4 405.2,519.8 429.7,525.8 456,533.3 478.8,540.4 526.1,556.2 548.9,562.9 562.9,566.2 576.9,568.9 591,570.8 607.2,572.4Z" fill="#799cf8"/>
<path d="M599.7,565.9 615.5,566.9 615.5,470.4 405.2,470.4 405.2,517.7 429.7,523.6 450.8,529.3 520.9,550.7 541.9,556.5 555.9,559.7 569.9,562.3 584,564.3 599,565.8Z" fill="#779af7"/>
<path d="M592.7,559.3 615.5,560.7 615.5,470.4 405.2,470.4 405.2,515.6 426.2,520.4 447.3,525.8 512.9,544.4 536.6,550.5 550.7,553.5 564.7,556 591.7,559.2Z" fill="#7699f6"/>
<path d="M610.2,554.4 615.5,554.6 615.5,470.4 405.2,470.4 405.2,513.4 438.5,520.9 509.4,539.5 538.4,546.1 555.9,549.2 571.7,551.4 589.2,553.1 608.5,554.3Z" fill="#7597f6"/>
<path d="M599.7,547.8 615.5,548.4 615.5,470.4 405.2,470.4 405.2,511 442,519 506.1,534.6 529.6,539.5 547.2,542.5 562.9,544.7 580.5,546.4 599.1,547.7Z" fill="#7295f4"/>
<path d="M589.2,541.2 615.5,542.3 615.5,470.4 405.2,470.4 405.2,508.5 438.5,515.4 496.3,528.3 522.6,533.4 554.2,538.1 588.5,541.1Z" fill="#7093f3"/>
<path d="M580.5,534.6 615.5,536.1 615.5,470.4 405.2,470.4 405.2,505.8 491.1,523 515.6,527.4 547.2,531.7 579.4,534.6Z" fill="#6f92f3"/>
<path d="M605,529.6 615.5,529.9 615.5,470.4 405.2,470.4 405.2,503 487.6,517.9 520.9,523.1 540.1,525.4 561.2,527.3 582.2,528.7 605,529.6Z" fill="#6c8ff1"/>
<path d="M594.5,523.1 615.5,523.7 615.5,470.4 405.2,470.4 405.2,499.9 477.1,511.7 513.9,517 552.4,520.8 593,523Z" fill="#6b8df0"/>
<path d="M582.2,516.5 615.5,517.4 615.5,470.4 405.2,470.4 405.2,496.6 473,506.6 506.8,510.9 543.6,514.3 581.8,516.5Z" fill="#6a8bef"/>
<path d="M569.9,509.9 615.5,511.3 615.5,470.4 405.2,470.4 405.2,493 464.8,500.9 499.8,504.9 534.9,507.9 569.3,509.9Z" fill="#688aef"/>
<path d="M613.7,505 615.5,505 615.5,470.4 405.2,470.4 405.2,489.1 471.7,496.7 513.9,500.6 561.2,503.4 612.8,504.9Z" fill="#6687ed"/>
<path d="M598,498.4 615.5,498.7 615.5,470.4 405.2,470.4 405.2,484.9 464.8,490.9 506.8,494.3 550.7,496.8 597.7,498.4Z" fill="#6485ec"/>
<path d="M585.7,491.8 615.5,492.4 615.5,470.4 405.2,470.4 405.2,480.4 461.1,485.2 501.6,488.1 541.9,490.3 585.2,491.8Z" fill="#6384eb"/>
<path d="M571.7,485.2 615.5,486.2 615.5,470.4 405.2,470.4 405.2,475.6 494.6,481.9 533.1,483.8 571.4,485.2Z" fill="#6282ea"/>
<path d="M562.9,478.7 615.5,479.9 615.5,470.4 405.2,470.4 489.3,475.6 561.7,478.6Z" fill="#5f7fe8"/>
<path d="M554.2,472.1 615.5,473.6 615.5,470.4 508.3,470.4 553,472Z" fill="#5e7de7"/>
</g><path d="M56,653.5 68.3,660.1 75.3,664.2 81,667.8M56,639.2 63,642.7 70,646.3 81.9,653 92.9,659.8 98.1,663.3 104.5,667.8M56,624.9 66.5,629.8 75.3,634.2 84.1,638.9 94.1,644.8 102,649.7 110.4,655.4 119.2,661.8 126.8,667.8M56,610.5 70,616.6 82.3,622.6 94.6,629.2 106.9,636.4 117.4,643.3 122.7,647 128.6,651.3 138.5,659.3 143.8,663.8 148.2,667.8M56,596 64.8,599.5 73.5,603.2 81.8,606.9 89.3,610.6 98.1,615.1 105.1,618.9 112.2,623 119.2,627.4 126.2,632 132.8,636.5 139.4,641.5 145.7,646.4 151.6,651.3 157.8,656.9 163.1,661.9 168.9,667.8M56,581.3 66.5,585.2 77.1,589.5 87.1,593.8 96.4,598.1 106.9,603.4 115.7,608.2 124.4,613.3 132.6,618.4 140.2,623.6 149,629.9 156,635.4 163.3,641.5 170.6,648.1 177.1,654.4 183.6,661.2 189.4,667.8M56,566.5 68.3,570.7 80.6,575.3 92.9,580.4 104.4,585.5 115.7,591.1 126.2,596.7 136.7,602.8 145.9,608.6 155.5,615.2 164.4,621.7 172.6,628.3 180.6,635.3 188.8,643.1 196.7,651.3 204,659.6 210.7,667.8M56,551.2 70,555.7 84.1,560.5 97.8,565.8 110.4,571.1 122.7,576.8 135,583 147.3,589.8 157.8,596.2 168.3,603.2 178.1,610.2 187.6,617.6 196.5,625 203.9,631.6 212.6,639.8 220.8,648.1 235,662.5 240.4,667.8M56,535 73.6,540 91.1,545.6 99.9,548.6 108.7,551.9 117.4,555.3 126.2,558.9 135,562.7 143.8,566.8 154.3,571.9 163.1,576.4 179.9,585.5 214,605 221,608.8 228,612.2 233.3,614.6 238.5,616.7 247.3,619.8 256.1,622.1 261.3,623.3 266.6,624.2M56,515.8 77.1,520.6 96.4,525.5 119.2,531.8 156,542.5 168.3,546 182.4,549.6 194.6,552.5 203.4,554.3 212.2,555.9 221,557.2 228,558.2 236.8,559.1 245.5,559.9 256.1,560.7 266.6,561.2M56,483.5 91.1,486.9 119.2,489.5 142,491.3 164.8,492.9 187.6,494.2 212.2,495.3 238.5,496.1 266.6,496.7" fill="none" stroke="#111" stroke-width="1" mask="url(#mL)" clip-path="url(#clipL)"/><path d="M615.5,488.7 589.2,488.2 562.9,487.4 538.4,486.5 513.9,485.3 491.1,484 466.5,482.3 439.1,480.3 405.2,477.5M615.5,570.5 606.7,570 598,569.3 589.2,568.3 582.2,567.5 573.4,566.1 566.4,564.9 559.4,563.5 550.7,561.5 538.4,558.2 524.4,554.1 477.1,538.8 454.3,531.8 443.8,528.8 431.5,525.4 419.2,522.3 405.2,519M615.5,649.9 608.5,647.9 601.5,645.3 594.5,642 587.5,638.1 582.2,634.8 575.2,630.1 545.8,608.6 536.5,602 529.1,597.1 519.1,590.7 510.5,585.5 501.6,580.5 492.5,575.7 482.3,570.6 471.8,565.8 461.3,561.2 450.8,557 440.2,553.1 428,548.9 417.5,545.5 405.2,541.9M567.2,667.8 559.1,657.9 551.9,649.7 544,641.5 535.4,633.3 526.1,625.1 517.9,618.4 509,611.9 499.4,605.3 489.3,599 478.8,592.9 468.1,587.2 456,581.3 443.8,575.9 431.5,571 419.2,566.4 405.2,561.7M539.4,667.8 533.6,661.2 527.4,654.6 520.7,648.1 513.5,641.5 505.7,634.9 498.1,629 490.4,623.4 482.3,617.9 473.5,612.4 464.8,607.3 454.9,602 445.5,597.3 436.7,593.2 426.2,588.7 415.7,584.5 405.2,580.6M513.5,667.8 508.5,662.9 503.2,657.9 497.6,653 491.1,647.6 485.4,643.1 478.7,638.2 471.8,633.4 464.8,628.9 457.8,624.6 450.8,620.5 443.8,616.7 436.7,613.1 429.7,609.7 421,605.7 414,602.7 405.2,599.1M487,667.8 477.1,659.6 468.4,653 459,646.4 449,640 438.5,633.9 428,628.2 417.5,623 405.2,617.5M459.2,667.8 452.5,663 447.3,659.4 440.2,654.8 433.2,650.5 426.2,646.5 419.2,642.7 412.2,639.1 405.2,635.7" fill="none" stroke="#111" stroke-width="1" mask="url(#mR)" clip-path="url(#clipR)"/><text transform="translate(256.07,496.5) rotate(1.13)" y="3.76" font-size="10.5" text-anchor="middle" fill="#222">55</text><text transform="translate(147.26,539.98) rotate(16.28)" y="3.76" font-size="10.5" text-anchor="middle" fill="#222">50</text><text transform="translate(194.26,593.77) rotate(30.11)" y="3.76" font-size="10.5" text-anchor="middle" fill="#222">45</text><text transform="translate(215.92,643.12) rotate(44.88)" y="3.76" font-size="10.5" text-anchor="middle" fill="#222">40</text><text transform="translate(103.39,585.06) rotate(24.95)" y="3.76" font-size="10.5" text-anchor="middle" fill="#222">35</text><text transform="translate(67.33,585.55) rotate(21.15)" y="3.76" font-size="10.5" text-anchor="middle" fill="#222">30</text><text transform="translate(131.47,635.61) rotate(35.38)" y="3.76" font-size="10.5" text-anchor="middle" fill="#222">25</text><text transform="translate(98.12,631.16) rotate(30.1)" y="3.76" font-size="10.5" text-anchor="middle" fill="#222">20</text><text transform="translate(70.04,631.49) rotate(26.53)" y="3.76" font-size="10.5" text-anchor="middle" fill="#222">15</text><text transform="translate(81.86,653) rotate(30.62)" y="3.76" font-size="10.5" text-anchor="middle" fill="#222">10</text><text transform="translate(604.56,488.49) rotate(1.12)" y="3.76" font-size="10.5" text-anchor="middle" fill="#222">0.7</text><text transform="translate(505.09,547.92) rotate(18.15)" y="3.76" font-size="10.5" text-anchor="middle" fill="#222">0.8</text><text transform="translate(554.87,615.16) rotate(36.41)" y="3.76" font-size="10.5" text-anchor="middle" fill="#222">0.9</text><text transform="translate(459.53,582.99) rotate(25.47)" y="3.76" font-size="10.5" text-anchor="middle" fill="#222">1.0</text><text transform="translate(426.23,588.69) rotate(22.53)" y="3.76" font-size="10.5" text-anchor="middle" fill="#222">1.1</text><text transform="translate(457.77,624.58) rotate(30.68)" y="3.76" font-size="10.5" text-anchor="middle" fill="#222">1.2</text><text transform="translate(473.55,656.84) rotate(37.47)" y="3.76" font-size="10.5" text-anchor="middle" fill="#222">1.3</text><text transform="translate(426.06,646.41) rotate(29.17)" y="3.76" font-size="10.5" text-anchor="middle" fill="#222">1.4</text><line x1="56.0" y1="667.5999999999999" x2="266.6" y2="667.5999999999999" stroke="#000" stroke-opacity="0.3" stroke-width="0.9"/><line x1="53" y1="667.8" x2="56.0" y2="667.8" stroke="#555" stroke-width="0.8"/><text x="47.7" y="671.2" font-size="9.8" text-anchor="end" fill="#222">0</text><line x1="53" y1="618.45" x2="56.0" y2="618.45" stroke="#555" stroke-width="0.8"/><text x="47.7" y="621.85" font-size="9.8" text-anchor="end" fill="#222">25</text><line x1="53" y1="569.1" x2="56.0" y2="569.1" stroke="#555" stroke-width="0.8"/><text x="47.7" y="572.5" font-size="9.8" text-anchor="end" fill="#222">50</text><line x1="53" y1="519.75" x2="56.0" y2="519.75" stroke="#555" stroke-width="0.8"/><text x="47.7" y="523.15" font-size="9.8" text-anchor="end" fill="#222">75</text><line x1="53" y1="470.4" x2="56.0" y2="470.4" stroke="#555" stroke-width="0.8"/><text x="47.7" y="473.8" font-size="9.8" text-anchor="end" fill="#222">100</text><line x1="56" y1="667.8" x2="56" y2="670.8" stroke="#555" stroke-width="0.8"/><text x="56" y="683.6" font-size="9.8" text-anchor="middle" fill="#222">0</text><line x1="98.12" y1="667.8" x2="98.12" y2="670.8" stroke="#555" stroke-width="0.8"/><text x="98.12" y="683.6" font-size="9.8" text-anchor="middle" fill="#222">20</text><line x1="140.24" y1="667.8" x2="140.24" y2="670.8" stroke="#555" stroke-width="0.8"/><text x="140.24" y="683.6" font-size="9.8" text-anchor="middle" fill="#222">40</text><line x1="182.36" y1="667.8" x2="182.36" y2="670.8" stroke="#555" stroke-width="0.8"/><text x="182.36" y="683.6" font-size="9.8" text-anchor="middle" fill="#222">60</text><line x1="224.48" y1="667.8" x2="224.48" y2="670.8" stroke="#555" stroke-width="0.8"/><text x="224.48" y="683.6" font-size="9.8" text-anchor="middle" fill="#222">80</text><line x1="266.6" y1="667.8" x2="266.6" y2="670.8" stroke="#555" stroke-width="0.8"/><text x="266.6" y="683.6" font-size="9.8" text-anchor="middle" fill="#222">100</text><text x="161.3" y="702.5" font-size="10.8" text-anchor="middle" fill="#222">Vaccine uptake in FSWs (%)</text><text transform="translate(27.6,567) rotate(-90)" font-size="11.4" text-anchor="middle" fill="#222"><tspan x="0" y="-14.4">Vaccine uptake in adults aged</tspan><tspan x="0" y="0">20–39 years (%)</tspan></text><line x1="405.2" y1="667.5999999999999" x2="615.5" y2="667.5999999999999" stroke="#000" stroke-opacity="0.3" stroke-width="0.9"/><line x1="402.2" y1="667.8" x2="405.2" y2="667.8" stroke="#555" stroke-width="0.8"/><text x="396.9" y="671.2" font-size="9.8" text-anchor="end" fill="#222">0</text><line x1="402.2" y1="618.45" x2="405.2" y2="618.45" stroke="#555" stroke-width="0.8"/><text x="396.9" y="621.85" font-size="9.8" text-anchor="end" fill="#222">25</text><line x1="402.2" y1="569.1" x2="405.2" y2="569.1" stroke="#555" stroke-width="0.8"/><text x="396.9" y="572.5" font-size="9.8" text-anchor="end" fill="#222">50</text><line x1="402.2" y1="519.75" x2="405.2" y2="519.75" stroke="#555" stroke-width="0.8"/><text x="396.9" y="523.15" font-size="9.8" text-anchor="end" fill="#222">75</text><line x1="402.2" y1="470.4" x2="405.2" y2="470.4" stroke="#555" stroke-width="0.8"/><text x="396.9" y="473.8" font-size="9.8" text-anchor="end" fill="#222">100</text><line x1="405.2" y1="667.8" x2="405.2" y2="670.8" stroke="#555" stroke-width="0.8"/><text x="405.2" y="683.6" font-size="9.8" text-anchor="middle" fill="#222">0</text><line x1="447.26" y1="667.8" x2="447.26" y2="670.8" stroke="#555" stroke-width="0.8"/><text x="447.26" y="683.6" font-size="9.8" text-anchor="middle" fill="#222">20</text><line x1="489.32" y1="667.8" x2="489.32" y2="670.8" stroke="#555" stroke-width="0.8"/><text x="489.32" y="683.6" font-size="9.8" text-anchor="middle" fill="#222">40</text><line x1="531.38" y1="667.8" x2="531.38" y2="670.8" stroke="#555" stroke-width="0.8"/><text x="531.38" y="683.6" font-size="9.8" text-anchor="middle" fill="#222">60</text><line x1="573.44" y1="667.8" x2="573.44" y2="670.8" stroke="#555" stroke-width="0.8"/><text x="573.44" y="683.6" font-size="9.8" text-anchor="middle" fill="#222">80</text><line x1="615.5" y1="667.8" x2="615.5" y2="670.8" stroke="#555" stroke-width="0.8"/><text x="615.5" y="683.6" font-size="9.8" text-anchor="middle" fill="#222">100</text><text x="510.35" y="702.5" font-size="10.8" text-anchor="middle" fill="#222">Vaccine uptake in FSWs (%)</text><text transform="translate(376.8,567) rotate(-90)" font-size="11.4" text-anchor="middle" fill="#222"><tspan x="0" y="-14.4">Vaccine uptake in adults aged</tspan><tspan x="0" y="0">20–39 years (%)</tspan></text><defs><linearGradient id="gBl" x1="0" y1="1" x2="0" y2="0"><stop offset="0" stop-color="#3181bd"/><stop offset="0.03" stop-color="#3686c0"/><stop offset="0.07" stop-color="#3a8ac2"/><stop offset="0.1" stop-color="#3f8fc5"/><stop offset="0.13" stop-color="#4594c7"/><stop offset="0.17" stop-color="#4a98c9"/><stop offset="0.2" stop-color="#519ccc"/><stop offset="0.23" stop-color="#57a0ce"/><stop offset="0.27" stop-color="#5ca4d0"/><stop offset="0.3" stop-color="#63a8d3"/><stop offset="0.33" stop-color="#69add5"/><stop offset="0.37" stop-color="#6fb0d7"/><stop offset="0.4" stop-color="#77b5d9"/><stop offset="0.43" stop-color="#7fb9da"/><stop offset="0.47" stop-color="#87bddc"/><stop offset="0.5" stop-color="#8dc1dd"/><stop offset="0.53" stop-color="#95c5df"/><stop offset="0.57" stop-color="#9dcae1"/><stop offset="0.6" stop-color="#a3cce3"/><stop offset="0.63" stop-color="#a9cfe5"/><stop offset="0.67" stop-color="#afd1e7"/><stop offset="0.7" stop-color="#b4d3e9"/><stop offset="0.73" stop-color="#bad6eb"/><stop offset="0.77" stop-color="#c1d9ed"/><stop offset="0.8" stop-color="#c7dbef"/><stop offset="0.83" stop-color="#caddf0"/><stop offset="0.87" stop-color="#cde0f1"/><stop offset="0.9" stop-color="#d1e2f3"/><stop offset="0.93" stop-color="#d4e4f4"/><stop offset="0.97" stop-color="#d8e7f5"/><stop offset="1" stop-color="#dce9f6"/></linearGradient></defs><rect x="277.1" y="470.4" width="9.4" height="197.4" fill="url(#gBl)"/><line x1="286.5" y1="470.4" x2="286.5" y2="667.8" stroke="#555" stroke-width="0.8"/><line x1="286.5" y1="667.8" x2="289.5" y2="667.8" stroke="#555" stroke-width="0.8"/><text x="295" y="671.2" font-size="9.8" fill="#222">0</text><line x1="286.5" y1="634.9" x2="289.5" y2="634.9" stroke="#555" stroke-width="0.8"/><text x="295" y="638.3" font-size="9.8" fill="#222">10</text><line x1="286.5" y1="602" x2="289.5" y2="602" stroke="#555" stroke-width="0.8"/><text x="295" y="605.4" font-size="9.8" fill="#222">20</text><line x1="286.5" y1="569.1" x2="289.5" y2="569.1" stroke="#555" stroke-width="0.8"/><text x="295" y="572.5" font-size="9.8" fill="#222">30</text><line x1="286.5" y1="536.2" x2="289.5" y2="536.2" stroke="#555" stroke-width="0.8"/><text x="295" y="539.6" font-size="9.8" fill="#222">40</text><line x1="286.5" y1="503.3" x2="289.5" y2="503.3" stroke="#555" stroke-width="0.8"/><text x="295" y="506.7" font-size="9.8" fill="#222">50</text><line x1="286.5" y1="470.4" x2="289.5" y2="470.4" stroke="#555" stroke-width="0.8"/><text x="295" y="473.8" font-size="9.8" fill="#222">60</text><text transform="translate(313.4,569.4) rotate(90)" font-size="11.4" text-anchor="middle" fill="#222">Reduction in reproduction number (%)</text><defs><linearGradient id="gCw" x1="0" y1="1" x2="0" y2="0"><stop offset="0" stop-color="#3b4cc0"/><stop offset="0.03" stop-color="#3f53c6"/><stop offset="0.05" stop-color="#445acc"/><stop offset="0.07" stop-color="#4961d2"/><stop offset="0.1" stop-color="#4e68d8"/><stop offset="0.12" stop-color="#536edd"/><stop offset="0.15" stop-color="#5875e1"/><stop offset="0.17" stop-color="#5e7de7"/><stop offset="0.2" stop-color="#6384eb"/><stop offset="0.23" stop-color="#688aef"/><stop offset="0.25" stop-color="#6e90f2"/><stop offset="0.28" stop-color="#7396f5"/><stop offset="0.3" stop-color="#799cf8"/><stop offset="0.33" stop-color="#80a3fa"/><stop offset="0.35" stop-color="#85a8fc"/><stop offset="0.38" stop-color="#8badfd"/><stop offset="0.4" stop-color="#90b2fe"/><stop offset="0.42" stop-color="#96b7ff"/><stop offset="0.45" stop-color="#9bbcff"/><stop offset="0.47" stop-color="#a2c1ff"/><stop offset="0.5" stop-color="#a7c5fe"/><stop offset="0.5" stop-color="#f7b599"/><stop offset="0.53" stop-color="#f7b093"/><stop offset="0.55" stop-color="#f7a98b"/><stop offset="0.57" stop-color="#f6a385"/><stop offset="0.6" stop-color="#f59d7e"/><stop offset="0.62" stop-color="#f39778"/><stop offset="0.65" stop-color="#f29072"/><stop offset="0.68" stop-color="#f08a6c"/><stop offset="0.7" stop-color="#ec8165"/><stop offset="0.72" stop-color="#e97a5f"/><stop offset="0.75" stop-color="#e67259"/><stop offset="0.78" stop-color="#e36b54"/><stop offset="0.8" stop-color="#df634e"/><stop offset="0.82" stop-color="#da5a49"/><stop offset="0.85" stop-color="#d55042"/><stop offset="0.88" stop-color="#d0473d"/><stop offset="0.9" stop-color="#cb3e38"/><stop offset="0.93" stop-color="#c53334"/><stop offset="0.95" stop-color="#c0282f"/><stop offset="0.97" stop-color="#ba162b"/><stop offset="1" stop-color="#b40426"/></linearGradient></defs><rect x="626.3" y="470.4" width="9.3" height="197.4" fill="url(#gCw)"/><line x1="635.6" y1="470.4" x2="635.6" y2="667.8" stroke="#555" stroke-width="0.8"/><line x1="635.6" y1="667.8" x2="638.6" y2="667.8" stroke="#555" stroke-width="0.8"/><text x="644.1" y="671.2" font-size="9.8" fill="#222">0.5</text><line x1="635.6" y1="648.06" x2="638.6" y2="648.06" stroke="#555" stroke-width="0.8"/><text x="644.1" y="651.46" font-size="9.8" fill="#222">0.6</text><line x1="635.6" y1="628.32" x2="638.6" y2="628.32" stroke="#555" stroke-width="0.8"/><text x="644.1" y="631.72" font-size="9.8" fill="#222">0.7</text><line x1="635.6" y1="608.58" x2="638.6" y2="608.58" stroke="#555" stroke-width="0.8"/><text x="644.1" y="611.98" font-size="9.8" fill="#222">0.8</text><line x1="635.6" y1="588.84" x2="638.6" y2="588.84" stroke="#555" stroke-width="0.8"/><text x="644.1" y="592.24" font-size="9.8" fill="#222">0.9</text><line x1="635.6" y1="569.1" x2="638.6" y2="569.1" stroke="#555" stroke-width="0.8"/><text x="644.1" y="572.5" font-size="9.8" fill="#222">1.0</text><line x1="635.6" y1="549.36" x2="638.6" y2="549.36" stroke="#555" stroke-width="0.8"/><text x="644.1" y="552.76" font-size="9.8" fill="#222">1.1</text><line x1="635.6" y1="529.62" x2="638.6" y2="529.62" stroke="#555" stroke-width="0.8"/><text x="644.1" y="533.02" font-size="9.8" fill="#222">1.2</text><line x1="635.6" y1="509.88" x2="638.6" y2="509.88" stroke="#555" stroke-width="0.8"/><text x="644.1" y="513.28" font-size="9.8" fill="#222">1.3</text><line x1="635.6" y1="490.14" x2="638.6" y2="490.14" stroke="#555" stroke-width="0.8"/><text x="644.1" y="493.54" font-size="9.8" fill="#222">1.4</text><line x1="635.6" y1="470.4" x2="638.6" y2="470.4" stroke="#555" stroke-width="0.8"/><text x="644.1" y="473.8" font-size="9.8" fill="#222">1.5</text><text transform="translate(663.5,568.4) rotate(90)" font-size="11.4" text-anchor="middle" fill="#222">Reproduction number</text>
</svg></body></html>
